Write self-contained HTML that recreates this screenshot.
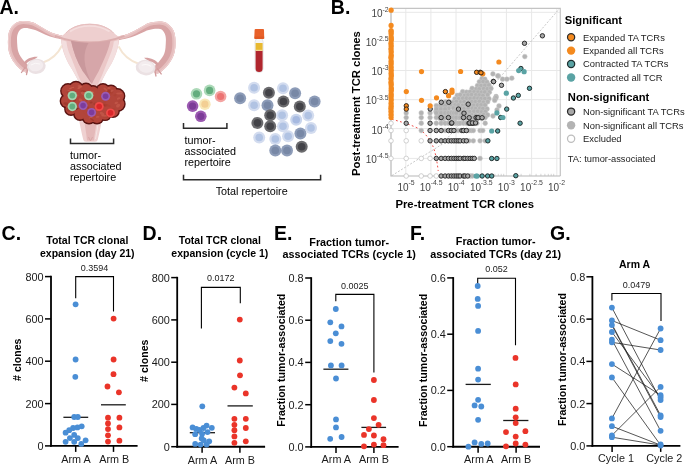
<!DOCTYPE html>
<html><head><meta charset="utf-8"><style>
html,body{margin:0;padding:0;background:#fff;}
svg{display:block;will-change:transform;}
text{font-family:"Liberation Sans", sans-serif;}
</style></head><body>
<svg width="685" height="465" viewBox="0 0 685 465" font-family="Liberation Sans, sans-serif">
<rect width="685" height="465" fill="#fff"/>
<line x1="63.4" y1="417.3" x2="88.2" y2="417.3" stroke="#1a1a1a" stroke-width="1.3"/>
<line x1="101" y1="404.8" x2="125.8" y2="404.8" stroke="#1a1a1a" stroke-width="1.3"/>
<line x1="189.8" y1="432.7" x2="215" y2="432.7" stroke="#1a1a1a" stroke-width="1.3"/>
<line x1="227.5" y1="405.9" x2="252.8" y2="405.9" stroke="#1a1a1a" stroke-width="1.3"/>
<line x1="323.4" y1="369.2" x2="348.4" y2="369.2" stroke="#1a1a1a" stroke-width="1.3"/>
<line x1="361.4" y1="427.4" x2="386.1" y2="427.4" stroke="#1a1a1a" stroke-width="1.3"/>
<line x1="465.6" y1="384.4" x2="490.8" y2="384.4" stroke="#1a1a1a" stroke-width="1.3"/>
<line x1="503.2" y1="420.5" x2="528.4" y2="420.5" stroke="#1a1a1a" stroke-width="1.3"/>
<text x="-0.5" y="13.9" font-size="19.5" font-weight="700" text-anchor="start" fill="#000" >A.</text>
<text x="330.8" y="14.0" font-size="19.5" font-weight="700" text-anchor="start" fill="#000" >B.</text>
<text x="1.6" y="240.0" font-size="19.5" font-weight="700" text-anchor="start" fill="#000" >C.</text>
<text x="142.6" y="240.0" font-size="19.5" font-weight="700" text-anchor="start" fill="#000" >D.</text>
<text x="274" y="240.0" font-size="19.5" font-weight="700" text-anchor="start" fill="#000" >E.</text>
<text x="410" y="240.0" font-size="19.5" font-weight="700" text-anchor="start" fill="#000" >F.</text>
<text x="550" y="240.0" font-size="19.5" font-weight="700" text-anchor="start" fill="#000" >G.</text>
<defs><clipPath id="tc"><path d="M62,35.6 C58,35 56.5,34.5 54,33.6 C51,32.5 48.5,31 45.5,29.4 C42.5,27.6 40,26 37,24.4 C34.5,23 32,22 29,21.6 C26,21.1 23.5,20.9 21.3,21.2 C19,21.5 17,22.2 15.5,23.2 C13.3,24.8 11.6,26.5 10.6,28.4 C9,31 8.3,34 8.1,37.1 C7.9,40.5 7.8,43.5 8.1,46.8 C8.4,50 9.2,53.5 10.6,56.4 C12,59.3 13.6,62 15.5,64.2 C17.3,66.5 19.2,68.5 21.3,70 C23,71.3 25,72.3 27.1,72.9 L29.3,66.1 C27.5,64.5 25.6,63 24.2,61.3 C22.5,59.2 20.6,57 19.4,54.5 C18.2,52 17.6,49.5 17.4,46.8 C17.2,44 17,41.5 17,39 C17,36.5 17.5,34 18.4,32.3 C19.3,30.5 20.5,28.8 22.3,28.4 C24.5,28 26.8,28 29,28.4 C32,28.9 34.5,29.5 37,30.8 C40,32.2 42.5,33.5 45.5,34.8 C48.5,36 51.5,37 54.5,37.8 C57,38.4 59,38.9 62,39.4 Z"/></clipPath></defs>
<g><path d="M62,35.6 C58,35 56.5,34.5 54,33.6 C51,32.5 48.5,31 45.5,29.4 C42.5,27.6 40,26 37,24.4 C34.5,23 32,22 29,21.6 C26,21.1 23.5,20.9 21.3,21.2 C19,21.5 17,22.2 15.5,23.2 C13.3,24.8 11.6,26.5 10.6,28.4 C9,31 8.3,34 8.1,37.1 C7.9,40.5 7.8,43.5 8.1,46.8 C8.4,50 9.2,53.5 10.6,56.4 C12,59.3 13.6,62 15.5,64.2 C17.3,66.5 19.2,68.5 21.3,70 C23,71.3 25,72.3 27.1,72.9 L29.3,66.1 C27.5,64.5 25.6,63 24.2,61.3 C22.5,59.2 20.6,57 19.4,54.5 C18.2,52 17.6,49.5 17.4,46.8 C17.2,44 17,41.5 17,39 C17,36.5 17.5,34 18.4,32.3 C19.3,30.5 20.5,28.8 22.3,28.4 C24.5,28 26.8,28 29,28.4 C32,28.9 34.5,29.5 37,30.8 C40,32.2 42.5,33.5 45.5,34.8 C48.5,36 51.5,37 54.5,37.8 C57,38.4 59,38.9 62,39.4 Z" fill="#d8a4a5"/>
<g clip-path="url(#tc)"><path d="M62,35.6 C58,35 56.5,34.5 54,33.6 C51,32.5 48.5,31 45.5,29.4 C42.5,27.6 40,26 37,24.4 C34.5,23 32,22 29,21.6 C26,21.1 23.5,20.9 21.3,21.2 C19,21.5 17,22.2 15.5,23.2 C13.3,24.8 11.6,26.5 10.6,28.4 C9,31 8.3,34 8.1,37.1 C7.9,40.5 7.8,43.5 8.1,46.8 C8.4,50 9.2,53.5 10.6,56.4 C12,59.3 13.6,62 15.5,64.2 C17.3,66.5 19.2,68.5 21.3,70 C23,71.3 25,72.3 27.1,72.9" stroke="#e6bebe" stroke-width="6" fill="none"/><path d="M62,35.6 C58,35 56.5,34.5 54,33.6 C51,32.5 48.5,31 45.5,29.4 C42.5,27.6 40,26 37,24.4 C34.5,23 32,22 29,21.6 C26,21.1 23.5,20.9 21.3,21.2 C19,21.5 17,22.2 15.5,23.2 C13.3,24.8 11.6,26.5 10.6,28.4 C9,31 8.3,34 8.1,37.1 C7.9,40.5 7.8,43.5 8.1,46.8 C8.4,50 9.2,53.5 10.6,56.4 C12,59.3 13.6,62 15.5,64.2 C17.3,66.5 19.2,68.5 21.3,70 C23,71.3 25,72.3 27.1,72.9" stroke="#efd0d0" stroke-width="1.8" fill="none"/></g>
<path d="M25,67.5 L21.5,72.5 M27.5,69.5 L26.5,74.5 M29.5,66.5 L31.5,64 M31,67.5 L33.5,66" stroke="#d29c9d" stroke-width="1.3" stroke-linecap="round"/>
<path d="M43,62.5 Q56,58 62,45.5" stroke="#f4e5d3" stroke-width="1.9" fill="none"/><ellipse cx="36.3" cy="66.3" rx="9.4" ry="7.6" fill="#ebe1e3" transform="rotate(-6 36.3 66.1)"/><ellipse cx="35.8" cy="65.6" rx="7.4" ry="5.7" fill="#f3ecee" transform="rotate(-6 35.8 65.4)"/><path d="M31,65 Q35,62 40,64" stroke="#fbf8f8" stroke-width="1" fill="none"/><path d="M23.5,63 C26.5,58.5 32,56.3 37.8,56.7 C36.2,58.3 33.2,59.6 30.6,60.6 C28.6,61.5 26.6,63 25.6,64.8 Z" fill="#d5a0a1"/></g>
<g transform="translate(183.8,0) scale(-1.052,1.02)"><path d="M62,35.6 C58,35 56.5,34.5 54,33.6 C51,32.5 48.5,31 45.5,29.4 C42.5,27.6 40,26 37,24.4 C34.5,23 32,22 29,21.6 C26,21.1 23.5,20.9 21.3,21.2 C19,21.5 17,22.2 15.5,23.2 C13.3,24.8 11.6,26.5 10.6,28.4 C9,31 8.3,34 8.1,37.1 C7.9,40.5 7.8,43.5 8.1,46.8 C8.4,50 9.2,53.5 10.6,56.4 C12,59.3 13.6,62 15.5,64.2 C17.3,66.5 19.2,68.5 21.3,70 C23,71.3 25,72.3 27.1,72.9 L29.3,66.1 C27.5,64.5 25.6,63 24.2,61.3 C22.5,59.2 20.6,57 19.4,54.5 C18.2,52 17.6,49.5 17.4,46.8 C17.2,44 17,41.5 17,39 C17,36.5 17.5,34 18.4,32.3 C19.3,30.5 20.5,28.8 22.3,28.4 C24.5,28 26.8,28 29,28.4 C32,28.9 34.5,29.5 37,30.8 C40,32.2 42.5,33.5 45.5,34.8 C48.5,36 51.5,37 54.5,37.8 C57,38.4 59,38.9 62,39.4 Z" fill="#d8a4a5"/>
<g clip-path="url(#tc)"><path d="M62,35.6 C58,35 56.5,34.5 54,33.6 C51,32.5 48.5,31 45.5,29.4 C42.5,27.6 40,26 37,24.4 C34.5,23 32,22 29,21.6 C26,21.1 23.5,20.9 21.3,21.2 C19,21.5 17,22.2 15.5,23.2 C13.3,24.8 11.6,26.5 10.6,28.4 C9,31 8.3,34 8.1,37.1 C7.9,40.5 7.8,43.5 8.1,46.8 C8.4,50 9.2,53.5 10.6,56.4 C12,59.3 13.6,62 15.5,64.2 C17.3,66.5 19.2,68.5 21.3,70 C23,71.3 25,72.3 27.1,72.9" stroke="#e6bebe" stroke-width="6" fill="none"/><path d="M62,35.6 C58,35 56.5,34.5 54,33.6 C51,32.5 48.5,31 45.5,29.4 C42.5,27.6 40,26 37,24.4 C34.5,23 32,22 29,21.6 C26,21.1 23.5,20.9 21.3,21.2 C19,21.5 17,22.2 15.5,23.2 C13.3,24.8 11.6,26.5 10.6,28.4 C9,31 8.3,34 8.1,37.1 C7.9,40.5 7.8,43.5 8.1,46.8 C8.4,50 9.2,53.5 10.6,56.4 C12,59.3 13.6,62 15.5,64.2 C17.3,66.5 19.2,68.5 21.3,70 C23,71.3 25,72.3 27.1,72.9" stroke="#efd0d0" stroke-width="1.8" fill="none"/></g>
<path d="M25,67.5 L21.5,72.5 M27.5,69.5 L26.5,74.5 M29.5,66.5 L31.5,64 M31,67.5 L33.5,66" stroke="#d29c9d" stroke-width="1.3" stroke-linecap="round"/>
<path d="M43,62.5 Q56,58 62,45.5" stroke="#f4e5d3" stroke-width="1.9" fill="none"/><ellipse cx="36.3" cy="66.3" rx="9.4" ry="7.6" fill="#ebe1e3" transform="rotate(-6 36.3 66.1)"/><ellipse cx="35.8" cy="65.6" rx="7.4" ry="5.7" fill="#f3ecee" transform="rotate(-6 35.8 65.4)"/><path d="M31,65 Q35,62 40,64" stroke="#fbf8f8" stroke-width="1" fill="none"/><path d="M23.5,63 C26.5,58.5 32,56.3 37.8,56.7 C36.2,58.3 33.2,59.6 30.6,60.6 C28.6,61.5 26.6,63 25.6,64.8 Z" fill="#d5a0a1"/></g>
<path d="M60,37 C64,35.5 66.5,31.5 71,28.8 C76,25.5 82,23.8 89.7,23.8 C97.4,23.8 103.4,25.5 108.4,28.8 C112.9,31.5 115.4,35.5 119.4,37 L119.2,39 C118.5,50 113,62 107.7,69.7 C104,76 101,82 100.2,86.2 L80.6,86.2 C79,82 76,76 72.3,69.7 C67,62 61.5,50 61,39 Z" fill="#ebc7c7"/>
<path d="M60,37 C64,35.5 66.5,31.5 71,28.8 C76,25.5 82,23.8 89.7,23.8 C97.4,23.8 103.4,25.5 108.4,28.8 C112.9,31.5 115.4,35.5 119.4,37 C110,40.5 100,41.4 89.7,41.4 C79,41.4 69,40.5 60,37 Z" fill="#eecfcf"/>
<path d="M66,33 C68,30.5 70,29.5 72,28.3 C77,25.6 82.5,24.4 89.7,24.4 C97,24.4 102.5,25.6 107.4,28.3 C109.5,29.5 111.5,30.5 113.5,33" stroke="#e4bcbc" stroke-width="0.9" fill="none"/>
<path d="M70,31.5 C76,27.5 82,26 89.7,26 C97,26 103,27.5 109.5,31.5" stroke="#f4dede" stroke-width="1.6" fill="none"/>
<path d="M55,35.8 C70,41.5 80,42.4 89.7,42.4 C99,42.4 110,41.5 124.5,35.8" stroke="#dcaeae" stroke-width="1.8" fill="none"/>
<path d="M61.5,40 C62,50 67,62 72.3,69.7 C75,74 78,80 80.6,86 L83,86 C79,78 74.5,66 70.5,56 C67.5,49 66.5,44 66.5,41.5 Z" fill="#f3dede"/>
<path d="M118.7,40 C118.2,50 113.2,62 107.9,69.7 C105.2,74 102.2,80 99.6,86 L97.2,86 C101.2,78 105.7,66 109.7,56 C112.7,49 113.7,44 113.7,41.5 Z" fill="#f3dede"/>
<path d="M71,40.8 C80,43 99,43 110.5,40.2 C108.5,50 104,60 98.7,71.2 C96,76 93.5,80 92,84 C88,78 85,74 82.8,71.2 C77,62 73.5,52 71,40.8 Z" fill="#d6a6a9"/>
<path d="M71,40.8 C77,42.3 83,42.9 88.5,42.9 C85.8,47 84.2,53 84.5,60 C85,68 88,76 92,84 C88,78 85,74 82.8,71.2 C77,62 73.5,52 71,40.8 Z" fill="#c9989c"/>
<path d="M78.5,117 L102.5,117 C101,125 99.5,133 97.8,139.5 Q97.5,141.8 95,141.8 L86,141.8 Q83.5,141.8 83.2,139.5 C81.5,133 80,125 78.5,117 Z" fill="#efd1d1"/>
<path d="M84,119 L97,119 C96,127 94.5,134 94,140.5 L87,140.5 C86.5,134 85,127 84,119 Z" fill="#e4b9b9"/>
<path d="M88.5,137 L90.5,141 L92.5,137" stroke="#d7a5a5" stroke-width="0.9" fill="none"/>
<path d="M98.5,119 C97.8,127 96.5,134 95.5,139" stroke="#f6e4e4" stroke-width="1" fill="none"/>
<circle cx="68.00" cy="91.00" r="7.9" fill="#5a1311" stroke="none" stroke-width="0" />
<circle cx="76.00" cy="88.50" r="7.699999999999999" fill="#5a1311" stroke="none" stroke-width="0" />
<circle cx="86.00" cy="90.00" r="7.4" fill="#5a1311" stroke="none" stroke-width="0" />
<circle cx="93.00" cy="92.00" r="6.9" fill="#5a1311" stroke="none" stroke-width="0" />
<circle cx="103.00" cy="90.50" r="7.4" fill="#5a1311" stroke="none" stroke-width="0" />
<circle cx="111.00" cy="92.00" r="7.4" fill="#5a1311" stroke="none" stroke-width="0" />
<circle cx="117.50" cy="96.00" r="7.9" fill="#5a1311" stroke="none" stroke-width="0" />
<circle cx="118.00" cy="104.00" r="7.699999999999999" fill="#5a1311" stroke="none" stroke-width="0" />
<circle cx="113.00" cy="111.00" r="6.9" fill="#5a1311" stroke="none" stroke-width="0" />
<circle cx="105.00" cy="114.50" r="6.6" fill="#5a1311" stroke="none" stroke-width="0" />
<circle cx="97.00" cy="117.00" r="7.4" fill="#5a1311" stroke="none" stroke-width="0" />
<circle cx="89.00" cy="117.00" r="7.4" fill="#5a1311" stroke="none" stroke-width="0" />
<circle cx="80.00" cy="114.00" r="6.9" fill="#5a1311" stroke="none" stroke-width="0" />
<circle cx="71.00" cy="109.00" r="6.9" fill="#5a1311" stroke="none" stroke-width="0" />
<circle cx="67.00" cy="101.00" r="7.4" fill="#5a1311" stroke="none" stroke-width="0" />
<circle cx="80.00" cy="100.00" r="10.4" fill="#5a1311" stroke="none" stroke-width="0" />
<circle cx="95.00" cy="102.00" r="11.4" fill="#5a1311" stroke="none" stroke-width="0" />
<circle cx="108.00" cy="102.00" r="10.4" fill="#5a1311" stroke="none" stroke-width="0" />
<circle cx="90.00" cy="108.00" r="9.4" fill="#5a1311" stroke="none" stroke-width="0" />
<circle cx="100.00" cy="108.00" r="9.4" fill="#5a1311" stroke="none" stroke-width="0" />
<circle cx="68.00" cy="91.00" r="6.5" fill="#b2453a" stroke="none" stroke-width="0" />
<circle cx="76.00" cy="88.50" r="6.3" fill="#b2453a" stroke="none" stroke-width="0" />
<circle cx="86.00" cy="90.00" r="6" fill="#b2453a" stroke="none" stroke-width="0" />
<circle cx="93.00" cy="92.00" r="5.5" fill="#b2453a" stroke="none" stroke-width="0" />
<circle cx="103.00" cy="90.50" r="6" fill="#b2453a" stroke="none" stroke-width="0" />
<circle cx="111.00" cy="92.00" r="6" fill="#b2453a" stroke="none" stroke-width="0" />
<circle cx="117.50" cy="96.00" r="6.5" fill="#b2453a" stroke="none" stroke-width="0" />
<circle cx="118.00" cy="104.00" r="6.3" fill="#b2453a" stroke="none" stroke-width="0" />
<circle cx="113.00" cy="111.00" r="5.5" fill="#b2453a" stroke="none" stroke-width="0" />
<circle cx="105.00" cy="114.50" r="5.2" fill="#b2453a" stroke="none" stroke-width="0" />
<circle cx="97.00" cy="117.00" r="6" fill="#b2453a" stroke="none" stroke-width="0" />
<circle cx="89.00" cy="117.00" r="6" fill="#b2453a" stroke="none" stroke-width="0" />
<circle cx="80.00" cy="114.00" r="5.5" fill="#b2453a" stroke="none" stroke-width="0" />
<circle cx="71.00" cy="109.00" r="5.5" fill="#b2453a" stroke="none" stroke-width="0" />
<circle cx="67.00" cy="101.00" r="6" fill="#b2453a" stroke="none" stroke-width="0" />
<circle cx="80.00" cy="100.00" r="9" fill="#b2453a" stroke="none" stroke-width="0" />
<circle cx="95.00" cy="102.00" r="10" fill="#b2453a" stroke="none" stroke-width="0" />
<circle cx="108.00" cy="102.00" r="9" fill="#b2453a" stroke="none" stroke-width="0" />
<circle cx="90.00" cy="108.00" r="8" fill="#b2453a" stroke="none" stroke-width="0" />
<circle cx="100.00" cy="108.00" r="8" fill="#b2453a" stroke="none" stroke-width="0" />
<ellipse cx="83.1" cy="91.1" rx="2.6" ry="0.9" transform="rotate(3 83.1 91.1)" fill="#9c352a" opacity="0.75"/>
<ellipse cx="97.6" cy="116.9" rx="1.9" ry="0.9" transform="rotate(-7 97.6 116.9)" fill="#c45a4b" opacity="0.75"/>
<ellipse cx="70.1" cy="100.4" rx="2.9" ry="0.9" transform="rotate(-22 70.1 100.4)" fill="#ad4133" opacity="0.75"/>
<ellipse cx="118.1" cy="105.6" rx="2.2" ry="1.6" transform="rotate(-36 118.1 105.6)" fill="#c45a4b" opacity="0.75"/>
<ellipse cx="110.7" cy="92.1" rx="2.5" ry="1.3" transform="rotate(-10 110.7 92.1)" fill="#ad4133" opacity="0.75"/>
<ellipse cx="104.9" cy="105.2" rx="2.6" ry="1.2" transform="rotate(3 104.9 105.2)" fill="#9c352a" opacity="0.75"/>
<ellipse cx="91.1" cy="117.4" rx="2.1" ry="1.0" transform="rotate(-26 91.1 117.4)" fill="#c45a4b" opacity="0.75"/>
<ellipse cx="92.7" cy="97.7" rx="2.3" ry="1.3" transform="rotate(-34 92.7 97.7)" fill="#ad4133" opacity="0.75"/>
<ellipse cx="88.4" cy="111.7" rx="1.8" ry="1.2" transform="rotate(-37 88.4 111.7)" fill="#a23a2e" opacity="0.75"/>
<ellipse cx="107.8" cy="105.5" rx="3.0" ry="1.1" transform="rotate(16 107.8 105.5)" fill="#ad4133" opacity="0.75"/>
<ellipse cx="92.8" cy="113.1" rx="1.6" ry="0.9" transform="rotate(-18 92.8 113.1)" fill="#a23a2e" opacity="0.75"/>
<ellipse cx="68.4" cy="109.9" rx="2.6" ry="1.6" transform="rotate(26 68.4 109.9)" fill="#9c352a" opacity="0.75"/>
<ellipse cx="105.1" cy="116.2" rx="2.1" ry="1.6" transform="rotate(-12 105.1 116.2)" fill="#ad4133" opacity="0.75"/>
<ellipse cx="71.6" cy="88.0" rx="2.8" ry="0.9" transform="rotate(-20 71.6 88.0)" fill="#c9604f" opacity="0.75"/>
<ellipse cx="116.3" cy="102.9" rx="1.8" ry="1.1" transform="rotate(-18 116.3 102.9)" fill="#c45a4b" opacity="0.75"/>
<ellipse cx="80.6" cy="100.1" rx="2.1" ry="1.5" transform="rotate(37 80.6 100.1)" fill="#c45a4b" opacity="0.75"/>
<ellipse cx="69.6" cy="91.1" rx="2.6" ry="0.8" transform="rotate(26 69.6 91.1)" fill="#c45a4b" opacity="0.75"/>
<ellipse cx="79.7" cy="86.1" rx="2.2" ry="1.1" transform="rotate(5 79.7 86.1)" fill="#c45a4b" opacity="0.75"/>
<ellipse cx="103.7" cy="103.5" rx="2.5" ry="1.3" transform="rotate(-36 103.7 103.5)" fill="#ad4133" opacity="0.75"/>
<ellipse cx="87.0" cy="99.6" rx="1.7" ry="1.3" transform="rotate(-35 87.0 99.6)" fill="#a23a2e" opacity="0.75"/>
<ellipse cx="120.1" cy="101.0" rx="1.7" ry="1.3" transform="rotate(-32 120.1 101.0)" fill="#ad4133" opacity="0.75"/>
<ellipse cx="73.5" cy="89.4" rx="2.1" ry="0.8" transform="rotate(30 73.5 89.4)" fill="#ad4133" opacity="0.75"/>
<ellipse cx="86.1" cy="107.6" rx="3.1" ry="1.3" transform="rotate(-2 86.1 107.6)" fill="#a23a2e" opacity="0.75"/>
<ellipse cx="91.1" cy="102.5" rx="1.6" ry="0.9" transform="rotate(-13 91.1 102.5)" fill="#9c352a" opacity="0.75"/>
<ellipse cx="91.8" cy="109.5" rx="2.4" ry="1.0" transform="rotate(36 91.8 109.5)" fill="#9c352a" opacity="0.75"/>
<ellipse cx="66.5" cy="104.0" rx="3.2" ry="1.5" transform="rotate(16 66.5 104.0)" fill="#9c352a" opacity="0.75"/>
<ellipse cx="94.0" cy="116.9" rx="2.1" ry="1.0" transform="rotate(3 94.0 116.9)" fill="#ad4133" opacity="0.75"/>
<ellipse cx="83.5" cy="93.6" rx="2.9" ry="1.6" transform="rotate(28 83.5 93.6)" fill="#c45a4b" opacity="0.75"/>
<ellipse cx="110.8" cy="111.2" rx="1.9" ry="1.2" transform="rotate(-12 110.8 111.2)" fill="#a23a2e" opacity="0.75"/>
<ellipse cx="91.4" cy="92.6" rx="2.5" ry="1.1" transform="rotate(25 91.4 92.6)" fill="#9c352a" opacity="0.75"/>
<ellipse cx="118.5" cy="98.4" rx="1.9" ry="1.0" transform="rotate(-24 118.5 98.4)" fill="#c45a4b" opacity="0.75"/>
<ellipse cx="92.0" cy="119.5" rx="2.5" ry="0.8" transform="rotate(33 92.0 119.5)" fill="#9c352a" opacity="0.75"/>
<ellipse cx="109.8" cy="88.9" rx="2.6" ry="1.5" transform="rotate(23 109.8 88.9)" fill="#c45a4b" opacity="0.75"/>
<ellipse cx="91.8" cy="92.1" rx="2.8" ry="1.1" transform="rotate(24 91.8 92.1)" fill="#c9604f" opacity="0.75"/>
<ellipse cx="90.9" cy="111.3" rx="1.6" ry="0.9" transform="rotate(39 90.9 111.3)" fill="#a23a2e" opacity="0.75"/>
<ellipse cx="110.2" cy="91.0" rx="2.9" ry="1.6" transform="rotate(13 110.2 91.0)" fill="#9c352a" opacity="0.75"/>
<ellipse cx="105.7" cy="89.5" rx="2.8" ry="0.9" transform="rotate(39 105.7 89.5)" fill="#c45a4b" opacity="0.75"/>
<ellipse cx="111.3" cy="93.2" rx="1.9" ry="1.0" transform="rotate(-21 111.3 93.2)" fill="#ad4133" opacity="0.75"/>
<ellipse cx="83.3" cy="104.5" rx="2.9" ry="0.8" transform="rotate(19 83.3 104.5)" fill="#c9604f" opacity="0.75"/>
<ellipse cx="102.1" cy="113.7" rx="2.4" ry="1.5" transform="rotate(30 102.1 113.7)" fill="#c45a4b" opacity="0.75"/>
<ellipse cx="94.8" cy="103.8" rx="1.5" ry="1.2" transform="rotate(-25 94.8 103.8)" fill="#a23a2e" opacity="0.75"/>
<ellipse cx="108.5" cy="91.1" rx="1.7" ry="1.3" transform="rotate(-30 108.5 91.1)" fill="#a23a2e" opacity="0.75"/>
<ellipse cx="83.3" cy="103.6" rx="2.4" ry="1.4" transform="rotate(-32 83.3 103.6)" fill="#ad4133" opacity="0.75"/>
<ellipse cx="68.2" cy="92.5" rx="1.6" ry="0.9" transform="rotate(-4 68.2 92.5)" fill="#a23a2e" opacity="0.75"/>
<ellipse cx="107.6" cy="117.0" rx="2.3" ry="1.3" transform="rotate(0 107.6 117.0)" fill="#ad4133" opacity="0.75"/>
<ellipse cx="76.2" cy="95.4" rx="2.4" ry="1.4" transform="rotate(1 76.2 95.4)" fill="#c45a4b" opacity="0.75"/>
<ellipse cx="104.2" cy="115.8" rx="3.1" ry="1.0" transform="rotate(5 104.2 115.8)" fill="#c45a4b" opacity="0.75"/>
<ellipse cx="112.0" cy="90.7" rx="1.7" ry="1.2" transform="rotate(-34 112.0 90.7)" fill="#c45a4b" opacity="0.75"/>
<ellipse cx="89.0" cy="93.2" rx="2.0" ry="0.9" transform="rotate(22 89.0 93.2)" fill="#9c352a" opacity="0.75"/>
<ellipse cx="119.2" cy="93.5" rx="3.1" ry="1.1" transform="rotate(-1 119.2 93.5)" fill="#c45a4b" opacity="0.75"/>
<ellipse cx="74.0" cy="100.7" rx="2.4" ry="1.1" transform="rotate(-24 74.0 100.7)" fill="#9c352a" opacity="0.75"/>
<ellipse cx="70.2" cy="98.4" rx="2.1" ry="1.2" transform="rotate(16 70.2 98.4)" fill="#c9604f" opacity="0.75"/>
<ellipse cx="83.6" cy="107.2" rx="2.4" ry="0.9" transform="rotate(39 83.6 107.2)" fill="#c45a4b" opacity="0.75"/>
<ellipse cx="79.9" cy="87.3" rx="2.8" ry="1.0" transform="rotate(-30 79.9 87.3)" fill="#c9604f" opacity="0.75"/>
<ellipse cx="112.6" cy="109.0" rx="3.1" ry="1.1" transform="rotate(3 112.6 109.0)" fill="#ad4133" opacity="0.75"/>
<ellipse cx="97.0" cy="109.8" rx="1.7" ry="0.8" transform="rotate(15 97.0 109.8)" fill="#c9604f" opacity="0.75"/>
<ellipse cx="115.1" cy="95.1" rx="1.5" ry="0.9" transform="rotate(-19 115.1 95.1)" fill="#ad4133" opacity="0.75"/>
<ellipse cx="112.9" cy="88.3" rx="3.0" ry="1.2" transform="rotate(-13 112.9 88.3)" fill="#ad4133" opacity="0.75"/>
<circle cx="72.30" cy="95.60" r="4.7" fill="#a3d6b0" stroke="none" stroke-width="0" />
<circle cx="72.30" cy="95.60" r="2.914" fill="#62ae7f" stroke="none" stroke-width="0" />
<circle cx="88.70" cy="95.60" r="4.7" fill="#a3d6b0" stroke="none" stroke-width="0" />
<circle cx="88.70" cy="95.60" r="2.914" fill="#62ae7f" stroke="none" stroke-width="0" />
<circle cx="72.30" cy="106.50" r="4.7" fill="#a3d6b0" stroke="none" stroke-width="0" />
<circle cx="72.30" cy="106.50" r="2.914" fill="#62ae7f" stroke="none" stroke-width="0" />
<circle cx="105.60" cy="96.30" r="4.5" fill="#9a5bb3" stroke="none" stroke-width="0" />
<circle cx="105.60" cy="96.30" r="2.79" fill="#7b3c9c" stroke="none" stroke-width="0" />
<circle cx="83.10" cy="105.60" r="4.5" fill="#9a5bb3" stroke="none" stroke-width="0" />
<circle cx="83.10" cy="105.60" r="2.79" fill="#7b3c9c" stroke="none" stroke-width="0" />
<circle cx="91.60" cy="112.40" r="4.5" fill="#9a5bb3" stroke="none" stroke-width="0" />
<circle cx="91.60" cy="112.40" r="2.79" fill="#7b3c9c" stroke="none" stroke-width="0" />
<circle cx="99.20" cy="106.50" r="4.5" fill="#ef4a48" stroke="none" stroke-width="0" />
<circle cx="99.20" cy="106.50" r="2.79" fill="#d9262a" stroke="none" stroke-width="0" />
<circle cx="110.50" cy="112.90" r="4.5" fill="#ef4a48" stroke="none" stroke-width="0" />
<circle cx="110.50" cy="112.90" r="2.79" fill="#d9262a" stroke="none" stroke-width="0" />
<path d="M70.5,138.4 L70.5,143.5 L113.6,143.5 L113.6,138.4" stroke="#2b2b2b" stroke-width="1.5" fill="none"/>
<text x="70" y="159.0" font-size="10.8" font-weight="400" text-anchor="start" fill="#000" >tumor-</text>
<text x="70" y="170.2" font-size="10.8" font-weight="400" text-anchor="start" fill="#000" >associated</text>
<text x="70" y="181.4" font-size="10.8" font-weight="400" text-anchor="start" fill="#000" >repertoire</text>
<rect x="255" y="38" width="8.2" height="34.5" rx="4" fill="#f4f4f4" stroke="#d8d8d8" stroke-width="0.6"/>
<path d="M255.6,50.5 L262.6,50.5 L262.6,68.5 A3.5,3.5 0 0 1 255.6,68.5 Z" fill="#b0262e"/>
<rect x="255.6" y="43" width="7" height="7.5" fill="#e8b931"/>
<rect x="255.6" y="49.8" width="7" height="1" fill="#f5e2a0"/>
<path d="M255.6,29 L263.2,29 Q264,29 264,30 L264.2,37.3 Q264.5,38.9 263.3,38.9 L255.2,38.9 Q254,38.9 254.3,37.3 L254.6,30 Q254.6,29 255.6,29 Z" fill="#e8612a"/>
<rect x="254.6" y="36.6" width="9.6" height="2.2" fill="#d9531f" opacity="0.6"/>
<circle cx="196.50" cy="93.80" r="5.8" fill="#acd9b8" stroke="none" stroke-width="0" />
<circle cx="196.50" cy="93.80" r="3.6" fill="#64ad7e" stroke="none" stroke-width="0" />
<circle cx="209.60" cy="90.40" r="5.8" fill="#acd9b8" stroke="none" stroke-width="0" />
<circle cx="209.60" cy="90.40" r="3.6" fill="#64ad7e" stroke="none" stroke-width="0" />
<circle cx="220.60" cy="96.50" r="5.8" fill="#f4a4a2" stroke="none" stroke-width="0" />
<circle cx="220.60" cy="96.50" r="3.6" fill="#ec7372" stroke="none" stroke-width="0" />
<circle cx="192.60" cy="106.10" r="5.8" fill="#9b5ab1" stroke="none" stroke-width="0" />
<circle cx="192.60" cy="106.10" r="3.6" fill="#7c3c98" stroke="none" stroke-width="0" />
<circle cx="200.80" cy="116.30" r="5.8" fill="#9b5ab1" stroke="none" stroke-width="0" />
<circle cx="200.80" cy="116.30" r="3.6" fill="#7c3c98" stroke="none" stroke-width="0" />
<circle cx="204.90" cy="104.20" r="5.8" fill="#f8e8b8" stroke="none" stroke-width="0" />
<circle cx="204.90" cy="104.20" r="3.6" fill="#f3cf94" stroke="none" stroke-width="0" />
<path d="M183.5,123.1 L183.5,128.2 L226.9,128.2 L226.9,123.1" stroke="#2b2b2b" stroke-width="1.5" fill="none"/>
<text x="184.5" y="143.6" font-size="10.8" font-weight="400" text-anchor="start" fill="#000" >tumor-</text>
<text x="184.5" y="154.7" font-size="10.8" font-weight="400" text-anchor="start" fill="#000" >associated</text>
<text x="184.5" y="165.79999999999998" font-size="10.8" font-weight="400" text-anchor="start" fill="#000" >repertoire</text>
<circle cx="254.10" cy="87.80" r="6.0" fill="#d3dcef" stroke="none" stroke-width="0" />
<circle cx="254.10" cy="87.80" r="3.8" fill="#b1c3e3" stroke="none" stroke-width="0" />
<circle cx="268.90" cy="92.70" r="6.0" fill="#6b6b6e" stroke="none" stroke-width="0" />
<circle cx="268.90" cy="92.70" r="3.8" fill="#434348" stroke="none" stroke-width="0" />
<circle cx="283.00" cy="88.20" r="6.0" fill="#d3dcef" stroke="none" stroke-width="0" />
<circle cx="283.00" cy="88.20" r="3.8" fill="#b1c3e3" stroke="none" stroke-width="0" />
<circle cx="295.10" cy="93.30" r="6.0" fill="#8d9cb8" stroke="none" stroke-width="0" />
<circle cx="295.10" cy="93.30" r="3.8" fill="#7888a6" stroke="none" stroke-width="0" />
<circle cx="240.10" cy="98.20" r="6.0" fill="#8d9cb8" stroke="none" stroke-width="0" />
<circle cx="240.10" cy="98.20" r="3.8" fill="#7888a6" stroke="none" stroke-width="0" />
<circle cx="254.10" cy="105.20" r="6.0" fill="#d3dcef" stroke="none" stroke-width="0" />
<circle cx="254.10" cy="105.20" r="3.8" fill="#b1c3e3" stroke="none" stroke-width="0" />
<circle cx="267.50" cy="105.20" r="6.0" fill="#8d9cb8" stroke="none" stroke-width="0" />
<circle cx="267.50" cy="105.20" r="3.8" fill="#7888a6" stroke="none" stroke-width="0" />
<circle cx="283.40" cy="101.50" r="6.0" fill="#6b6b6e" stroke="none" stroke-width="0" />
<circle cx="283.40" cy="101.50" r="3.8" fill="#434348" stroke="none" stroke-width="0" />
<circle cx="299.80" cy="106.60" r="6.0" fill="#6b6b6e" stroke="none" stroke-width="0" />
<circle cx="299.80" cy="106.60" r="3.8" fill="#434348" stroke="none" stroke-width="0" />
<circle cx="314.60" cy="101.50" r="6.0" fill="#8d9cb8" stroke="none" stroke-width="0" />
<circle cx="314.60" cy="101.50" r="3.8" fill="#7888a6" stroke="none" stroke-width="0" />
<circle cx="270.20" cy="115.20" r="6.0" fill="#6b6b6e" stroke="none" stroke-width="0" />
<circle cx="270.20" cy="115.20" r="3.8" fill="#434348" stroke="none" stroke-width="0" />
<circle cx="282.10" cy="115.20" r="6.0" fill="#d3dcef" stroke="none" stroke-width="0" />
<circle cx="282.10" cy="115.20" r="3.8" fill="#b1c3e3" stroke="none" stroke-width="0" />
<circle cx="296.20" cy="119.80" r="6.0" fill="#c9d5ec" stroke="none" stroke-width="0" />
<circle cx="296.20" cy="119.80" r="3.8" fill="#a6b9e0" stroke="none" stroke-width="0" />
<circle cx="308.20" cy="115.60" r="6.0" fill="#d3dcef" stroke="none" stroke-width="0" />
<circle cx="308.20" cy="115.60" r="3.8" fill="#b1c3e3" stroke="none" stroke-width="0" />
<circle cx="257.40" cy="122.90" r="6.0" fill="#6b6b6e" stroke="none" stroke-width="0" />
<circle cx="257.40" cy="122.90" r="3.8" fill="#434348" stroke="none" stroke-width="0" />
<circle cx="270.20" cy="126.20" r="6.0" fill="#6b6b6e" stroke="none" stroke-width="0" />
<circle cx="270.20" cy="126.20" r="3.8" fill="#434348" stroke="none" stroke-width="0" />
<circle cx="283.00" cy="126.20" r="6.0" fill="#d3dcef" stroke="none" stroke-width="0" />
<circle cx="283.00" cy="126.20" r="3.8" fill="#b1c3e3" stroke="none" stroke-width="0" />
<circle cx="311.00" cy="128.00" r="6.0" fill="#d3dcef" stroke="none" stroke-width="0" />
<circle cx="311.00" cy="128.00" r="3.8" fill="#b1c3e3" stroke="none" stroke-width="0" />
<circle cx="300.40" cy="133.50" r="6.0" fill="#8d9cb8" stroke="none" stroke-width="0" />
<circle cx="300.40" cy="133.50" r="3.8" fill="#7888a6" stroke="none" stroke-width="0" />
<circle cx="259.20" cy="137.50" r="6.0" fill="#d3dcef" stroke="none" stroke-width="0" />
<circle cx="259.20" cy="137.50" r="3.8" fill="#b1c3e3" stroke="none" stroke-width="0" />
<circle cx="275.30" cy="139.00" r="6.0" fill="#d3dcef" stroke="none" stroke-width="0" />
<circle cx="275.30" cy="139.00" r="3.8" fill="#b1c3e3" stroke="none" stroke-width="0" />
<circle cx="288.10" cy="136.20" r="6.0" fill="#d3dcef" stroke="none" stroke-width="0" />
<circle cx="288.10" cy="136.20" r="3.8" fill="#b1c3e3" stroke="none" stroke-width="0" />
<circle cx="275.30" cy="150.50" r="6.0" fill="#8d9cb8" stroke="none" stroke-width="0" />
<circle cx="275.30" cy="150.50" r="3.8" fill="#7888a6" stroke="none" stroke-width="0" />
<circle cx="287.00" cy="150.50" r="6.0" fill="#8d9cb8" stroke="none" stroke-width="0" />
<circle cx="287.00" cy="150.50" r="3.8" fill="#7888a6" stroke="none" stroke-width="0" />
<circle cx="301.70" cy="146.80" r="6.0" fill="#6b6b6e" stroke="none" stroke-width="0" />
<circle cx="301.70" cy="146.80" r="3.8" fill="#434348" stroke="none" stroke-width="0" />
<path d="M183.5,174.7 L183.5,179.7 L320.6,179.7 L320.6,174.7" stroke="#2b2b2b" stroke-width="1.5" fill="none"/>
<text x="251.7" y="194.8" font-size="10.8" font-weight="400" text-anchor="middle" fill="#000" >Total repertoire</text>
<line x1="405.8" y1="8.4" x2="405.8" y2="176" stroke="#e8e8e8" stroke-width="1"/>
<line x1="430.9" y1="8.4" x2="430.9" y2="176" stroke="#e8e8e8" stroke-width="1"/>
<line x1="456.0" y1="8.4" x2="456.0" y2="176" stroke="#e8e8e8" stroke-width="1"/>
<line x1="481.2" y1="8.4" x2="481.2" y2="176" stroke="#e8e8e8" stroke-width="1"/>
<line x1="506.4" y1="8.4" x2="506.4" y2="176" stroke="#e8e8e8" stroke-width="1"/>
<line x1="531.6" y1="8.4" x2="531.6" y2="176" stroke="#e8e8e8" stroke-width="1"/>
<line x1="556.8" y1="8.4" x2="556.8" y2="176" stroke="#e8e8e8" stroke-width="1"/>
<line x1="391" y1="12.3" x2="560.3" y2="12.3" stroke="#e8e8e8" stroke-width="1"/>
<line x1="391" y1="41.5" x2="560.3" y2="41.5" stroke="#e8e8e8" stroke-width="1"/>
<line x1="391" y1="70.5" x2="560.3" y2="70.5" stroke="#e8e8e8" stroke-width="1"/>
<line x1="391" y1="99.7" x2="560.3" y2="99.7" stroke="#e8e8e8" stroke-width="1"/>
<line x1="391" y1="128.6" x2="560.3" y2="128.6" stroke="#e8e8e8" stroke-width="1"/>
<line x1="391" y1="158.4" x2="560.3" y2="158.4" stroke="#e8e8e8" stroke-width="1"/>
<path d="M391,8.4 L560.3,8.4 L560.3,176" stroke="#c4c4c4" stroke-width="1.2" fill="none"/>
<path d="M391,8.4 L391,176 L560.3,176" stroke="#b8b8b8" stroke-width="1.2" fill="none"/>
<line x1="421.1" y1="176" x2="421.1" y2="173.8" stroke="#b8b8b8" stroke-width="0.6"/>
<line x1="429.9" y1="176" x2="429.9" y2="173.8" stroke="#b8b8b8" stroke-width="0.6"/>
<line x1="436.1" y1="176" x2="436.1" y2="173.8" stroke="#b8b8b8" stroke-width="0.6"/>
<line x1="440.9" y1="176" x2="440.9" y2="173.8" stroke="#b8b8b8" stroke-width="0.6"/>
<line x1="444.9" y1="176" x2="444.9" y2="173.8" stroke="#b8b8b8" stroke-width="0.6"/>
<line x1="448.3" y1="176" x2="448.3" y2="173.8" stroke="#b8b8b8" stroke-width="0.6"/>
<line x1="451.2" y1="176" x2="451.2" y2="173.8" stroke="#b8b8b8" stroke-width="0.6"/>
<line x1="453.7" y1="176" x2="453.7" y2="173.8" stroke="#b8b8b8" stroke-width="0.6"/>
<line x1="471.1" y1="176" x2="471.1" y2="173.8" stroke="#b8b8b8" stroke-width="0.6"/>
<line x1="479.9" y1="176" x2="479.9" y2="173.8" stroke="#b8b8b8" stroke-width="0.6"/>
<line x1="486.1" y1="176" x2="486.1" y2="173.8" stroke="#b8b8b8" stroke-width="0.6"/>
<line x1="490.9" y1="176" x2="490.9" y2="173.8" stroke="#b8b8b8" stroke-width="0.6"/>
<line x1="494.9" y1="176" x2="494.9" y2="173.8" stroke="#b8b8b8" stroke-width="0.6"/>
<line x1="498.3" y1="176" x2="498.3" y2="173.8" stroke="#b8b8b8" stroke-width="0.6"/>
<line x1="501.2" y1="176" x2="501.2" y2="173.8" stroke="#b8b8b8" stroke-width="0.6"/>
<line x1="503.7" y1="176" x2="503.7" y2="173.8" stroke="#b8b8b8" stroke-width="0.6"/>
<line x1="521.1" y1="176" x2="521.1" y2="173.8" stroke="#b8b8b8" stroke-width="0.6"/>
<line x1="529.9" y1="176" x2="529.9" y2="173.8" stroke="#b8b8b8" stroke-width="0.6"/>
<line x1="536.1" y1="176" x2="536.1" y2="173.8" stroke="#b8b8b8" stroke-width="0.6"/>
<line x1="540.9" y1="176" x2="540.9" y2="173.8" stroke="#b8b8b8" stroke-width="0.6"/>
<line x1="544.9" y1="176" x2="544.9" y2="173.8" stroke="#b8b8b8" stroke-width="0.6"/>
<line x1="548.3" y1="176" x2="548.3" y2="173.8" stroke="#b8b8b8" stroke-width="0.6"/>
<line x1="551.2" y1="176" x2="551.2" y2="173.8" stroke="#b8b8b8" stroke-width="0.6"/>
<line x1="553.7" y1="176" x2="553.7" y2="173.8" stroke="#b8b8b8" stroke-width="0.6"/>
<text x="388.6" y="16.8" font-size="10" fill="#444" text-anchor="end">10<tspan font-size="6.9" dx="-0.2" dy="-4.9">-2</tspan></text>
<text x="388.6" y="46.0" font-size="10" fill="#444" text-anchor="end">10<tspan font-size="6.9" dx="-0.2" dy="-4.9">-2.5</tspan></text>
<text x="388.6" y="75.2" font-size="10" fill="#444" text-anchor="end">10<tspan font-size="6.9" dx="-0.2" dy="-4.9">-3</tspan></text>
<text x="388.6" y="104.4" font-size="10" fill="#444" text-anchor="end">10<tspan font-size="6.9" dx="-0.2" dy="-4.9">-3.5</tspan></text>
<text x="388.6" y="133.6" font-size="10" fill="#444" text-anchor="end">10<tspan font-size="6.9" dx="-0.2" dy="-4.9">-4</tspan></text>
<text x="388.6" y="162.8" font-size="10" fill="#444" text-anchor="end">10<tspan font-size="6.9" dx="-0.2" dy="-4.9">-4.5</tspan></text>
<text x="406.0" y="190.9" font-size="10" fill="#444" text-anchor="middle">10<tspan font-size="6.9" dx="-0.2" dy="-6.4">-5</tspan></text>
<text x="431.1" y="190.9" font-size="10" fill="#444" text-anchor="middle">10<tspan font-size="6.9" dx="-0.2" dy="-6.4">-4.5</tspan></text>
<text x="456.2" y="190.9" font-size="10" fill="#444" text-anchor="middle">10<tspan font-size="6.9" dx="-0.2" dy="-6.4">-4</tspan></text>
<text x="481.3" y="190.9" font-size="10" fill="#444" text-anchor="middle">10<tspan font-size="6.9" dx="-0.2" dy="-6.4">-3.5</tspan></text>
<text x="506.4" y="190.9" font-size="10" fill="#444" text-anchor="middle">10<tspan font-size="6.9" dx="-0.2" dy="-6.4">-3</tspan></text>
<text x="531.5" y="190.9" font-size="10" fill="#444" text-anchor="middle">10<tspan font-size="6.9" dx="-0.2" dy="-6.4">-2.5</tspan></text>
<text x="556.6" y="190.9" font-size="10" fill="#444" text-anchor="middle">10<tspan font-size="6.9" dx="-0.2" dy="-6.4">-2</tspan></text>
<text x="464.8" y="207.5" font-size="11.3" font-weight="700" text-anchor="middle" fill="#000" >Pre-treatment TCR clones</text>
<text x="0" y="0" font-size="11.3" font-weight="700" text-anchor="middle" transform="translate(360.0,103.6) rotate(-90)">Post-treatment TCR clones</text>
<path d="M391.9,175.6 L442.2,144.2 L559.3,8.8" stroke="#b0b0b0" stroke-width="0.7" stroke-dasharray="2,1.6" fill="none"/>
<path d="M392,119.3 C399,121.3 409,123.8 418.6,128.6 C424,132 429.5,138.5 432.5,145.2 C435,151 436.8,159 438.2,171" stroke="#ec3b36" stroke-width="0.9" stroke-dasharray="1.8,2.4" fill="none"/>
<rect x="388.7" y="29.5" width="4.8" height="88.5" rx="2.4" fill="#f48a1f"/>
<circle cx="391.10" cy="10.20" r="2.6" fill="#f48a1f" stroke="none" stroke-width="0" />
<circle cx="391.10" cy="25.40" r="2.6" fill="#f48a1f" stroke="none" stroke-width="0" />
<circle cx="391.10" cy="30.50" r="2.6" fill="#f48a1f" stroke="none" stroke-width="0" />
<circle cx="391.10" cy="117.50" r="2.6" fill="#f48a1f" stroke="none" stroke-width="0" />
<circle cx="391.05" cy="31.50" r="2.5" fill="#f48a1f" stroke="none" stroke-width="0" />
<circle cx="391.17" cy="33.45" r="2.5" fill="#f48a1f" stroke="none" stroke-width="0" />
<circle cx="391.23" cy="37.53" r="2.5" fill="#f48a1f" stroke="none" stroke-width="0" />
<circle cx="391.38" cy="39.71" r="2.5" fill="#f48a1f" stroke="none" stroke-width="0" />
<circle cx="390.91" cy="43.52" r="2.5" fill="#f48a1f" stroke="none" stroke-width="0" />
<circle cx="391.18" cy="46.04" r="2.5" fill="#f48a1f" stroke="none" stroke-width="0" />
<circle cx="390.92" cy="48.93" r="2.5" fill="#f48a1f" stroke="none" stroke-width="0" />
<circle cx="391.20" cy="51.72" r="2.5" fill="#f48a1f" stroke="none" stroke-width="0" />
<circle cx="391.28" cy="55.59" r="2.5" fill="#f48a1f" stroke="none" stroke-width="0" />
<circle cx="390.82" cy="57.42" r="2.5" fill="#f48a1f" stroke="none" stroke-width="0" />
<circle cx="391.10" cy="61.57" r="2.5" fill="#f48a1f" stroke="none" stroke-width="0" />
<circle cx="391.11" cy="63.69" r="2.5" fill="#f48a1f" stroke="none" stroke-width="0" />
<circle cx="391.07" cy="67.19" r="2.5" fill="#f48a1f" stroke="none" stroke-width="0" />
<circle cx="391.19" cy="70.19" r="2.5" fill="#f48a1f" stroke="none" stroke-width="0" />
<circle cx="391.13" cy="73.47" r="2.5" fill="#f48a1f" stroke="none" stroke-width="0" />
<circle cx="391.38" cy="75.77" r="2.5" fill="#f48a1f" stroke="none" stroke-width="0" />
<circle cx="390.93" cy="78.68" r="2.5" fill="#f48a1f" stroke="none" stroke-width="0" />
<circle cx="390.92" cy="82.46" r="2.5" fill="#f48a1f" stroke="none" stroke-width="0" />
<circle cx="391.24" cy="84.57" r="2.5" fill="#f48a1f" stroke="none" stroke-width="0" />
<circle cx="391.39" cy="88.58" r="2.5" fill="#f48a1f" stroke="none" stroke-width="0" />
<circle cx="391.30" cy="90.42" r="2.5" fill="#f48a1f" stroke="none" stroke-width="0" />
<circle cx="391.18" cy="94.46" r="2.5" fill="#f48a1f" stroke="none" stroke-width="0" />
<circle cx="391.06" cy="96.47" r="2.5" fill="#f48a1f" stroke="none" stroke-width="0" />
<circle cx="391.20" cy="99.86" r="2.5" fill="#f48a1f" stroke="none" stroke-width="0" />
<circle cx="391.10" cy="103.57" r="2.5" fill="#f48a1f" stroke="none" stroke-width="0" />
<circle cx="391.16" cy="106.23" r="2.5" fill="#f48a1f" stroke="none" stroke-width="0" />
<circle cx="390.83" cy="108.62" r="2.5" fill="#f48a1f" stroke="none" stroke-width="0" />
<circle cx="390.96" cy="111.40" r="2.5" fill="#f48a1f" stroke="none" stroke-width="0" />
<circle cx="391.02" cy="114.79" r="2.5" fill="#f48a1f" stroke="none" stroke-width="0" />
<circle cx="391.00" cy="123.24" r="2.3000000000000003" fill="#ffffff" stroke="#bdbdbd" stroke-width="0.7" />
<circle cx="391.00" cy="130.54" r="2.3000000000000003" fill="#ffffff" stroke="#bdbdbd" stroke-width="0.7" />
<circle cx="391.00" cy="140.82" r="2.3000000000000003" fill="#ffffff" stroke="#bdbdbd" stroke-width="0.7" />
<circle cx="391.00" cy="158.40" r="2.3000000000000003" fill="#ffffff" stroke="#bdbdbd" stroke-width="0.7" />
<circle cx="481.98" cy="78.62" r="2.4" fill="#b3b3b3" stroke="#c9c9c9" stroke-width="0.5" />
<circle cx="484.83" cy="79.18" r="2.4" fill="#b3b3b3" stroke="#c9c9c9" stroke-width="0.5" />
<circle cx="479.32" cy="81.78" r="2.4" fill="#b3b3b3" stroke="#c9c9c9" stroke-width="0.5" />
<circle cx="483.24" cy="81.68" r="2.4" fill="#b3b3b3" stroke="#c9c9c9" stroke-width="0.5" />
<circle cx="486.98" cy="82.26" r="2.4" fill="#b3b3b3" stroke="#c9c9c9" stroke-width="0.5" />
<circle cx="477.45" cy="85.68" r="2.4" fill="#b3b3b3" stroke="#c9c9c9" stroke-width="0.5" />
<circle cx="481.09" cy="85.72" r="2.4" fill="#b3b3b3" stroke="#c9c9c9" stroke-width="0.5" />
<circle cx="484.94" cy="85.49" r="2.4" fill="#b3b3b3" stroke="#c9c9c9" stroke-width="0.5" />
<circle cx="488.99" cy="85.20" r="2.4" fill="#b3b3b3" stroke="#c9c9c9" stroke-width="0.5" />
<circle cx="472.13" cy="88.28" r="2.4" fill="#b3b3b3" stroke="#c9c9c9" stroke-width="0.5" />
<circle cx="476.26" cy="89.05" r="2.4" fill="#b3b3b3" stroke="#c9c9c9" stroke-width="0.5" />
<circle cx="479.26" cy="89.09" r="2.4" fill="#b3b3b3" stroke="#c9c9c9" stroke-width="0.5" />
<circle cx="483.68" cy="88.80" r="2.4" fill="#b3b3b3" stroke="#c9c9c9" stroke-width="0.5" />
<circle cx="487.46" cy="88.92" r="2.4" fill="#b3b3b3" stroke="#c9c9c9" stroke-width="0.5" />
<circle cx="490.99" cy="88.48" r="2.4" fill="#b3b3b3" stroke="#c9c9c9" stroke-width="0.5" />
<circle cx="462.62" cy="91.64" r="2.4" fill="#b3b3b3" stroke="#c9c9c9" stroke-width="0.5" />
<circle cx="466.62" cy="92.22" r="2.4" fill="#b3b3b3" stroke="#c9c9c9" stroke-width="0.5" />
<circle cx="470.11" cy="91.93" r="2.4" fill="#b3b3b3" stroke="#c9c9c9" stroke-width="0.5" />
<circle cx="474.10" cy="92.01" r="2.4" fill="#b3b3b3" stroke="#c9c9c9" stroke-width="0.5" />
<circle cx="478.11" cy="92.25" r="2.4" fill="#b3b3b3" stroke="#c9c9c9" stroke-width="0.5" />
<circle cx="481.57" cy="92.31" r="2.4" fill="#b3b3b3" stroke="#c9c9c9" stroke-width="0.5" />
<circle cx="484.82" cy="92.19" r="2.4" fill="#b3b3b3" stroke="#c9c9c9" stroke-width="0.5" />
<circle cx="489.40" cy="92.21" r="2.4" fill="#b3b3b3" stroke="#c9c9c9" stroke-width="0.5" />
<circle cx="457.26" cy="95.44" r="2.4" fill="#b3b3b3" stroke="#c9c9c9" stroke-width="0.5" />
<circle cx="460.19" cy="94.84" r="2.4" fill="#b3b3b3" stroke="#c9c9c9" stroke-width="0.5" />
<circle cx="464.54" cy="95.76" r="2.4" fill="#b3b3b3" stroke="#c9c9c9" stroke-width="0.5" />
<circle cx="468.08" cy="95.25" r="2.4" fill="#b3b3b3" stroke="#c9c9c9" stroke-width="0.5" />
<circle cx="471.55" cy="94.82" r="2.4" fill="#b3b3b3" stroke="#c9c9c9" stroke-width="0.5" />
<circle cx="475.83" cy="95.04" r="2.4" fill="#b3b3b3" stroke="#c9c9c9" stroke-width="0.5" />
<circle cx="479.36" cy="95.26" r="2.4" fill="#b3b3b3" stroke="#c9c9c9" stroke-width="0.5" />
<circle cx="482.97" cy="95.73" r="2.4" fill="#b3b3b3" stroke="#c9c9c9" stroke-width="0.5" />
<circle cx="487.60" cy="94.89" r="2.4" fill="#b3b3b3" stroke="#c9c9c9" stroke-width="0.5" />
<circle cx="454.93" cy="98.85" r="2.4" fill="#b3b3b3" stroke="#c9c9c9" stroke-width="0.5" />
<circle cx="458.67" cy="98.91" r="2.4" fill="#b3b3b3" stroke="#c9c9c9" stroke-width="0.5" />
<circle cx="462.85" cy="98.33" r="2.4" fill="#b3b3b3" stroke="#c9c9c9" stroke-width="0.5" />
<circle cx="466.56" cy="98.33" r="2.4" fill="#b3b3b3" stroke="#c9c9c9" stroke-width="0.5" />
<circle cx="470.25" cy="98.56" r="2.4" fill="#b3b3b3" stroke="#c9c9c9" stroke-width="0.5" />
<circle cx="474.25" cy="98.18" r="2.4" fill="#b3b3b3" stroke="#c9c9c9" stroke-width="0.5" />
<circle cx="478.11" cy="98.39" r="2.4" fill="#b3b3b3" stroke="#c9c9c9" stroke-width="0.5" />
<circle cx="481.05" cy="98.73" r="2.4" fill="#b3b3b3" stroke="#c9c9c9" stroke-width="0.5" />
<circle cx="485.00" cy="98.70" r="2.4" fill="#b3b3b3" stroke="#c9c9c9" stroke-width="0.5" />
<circle cx="488.93" cy="98.75" r="2.4" fill="#b3b3b3" stroke="#c9c9c9" stroke-width="0.5" />
<circle cx="445.59" cy="102.02" r="2.4" fill="#b3b3b3" stroke="#c9c9c9" stroke-width="0.5" />
<circle cx="448.83" cy="101.88" r="2.4" fill="#b3b3b3" stroke="#c9c9c9" stroke-width="0.5" />
<circle cx="452.99" cy="102.37" r="2.4" fill="#b3b3b3" stroke="#c9c9c9" stroke-width="0.5" />
<circle cx="456.40" cy="101.62" r="2.4" fill="#b3b3b3" stroke="#c9c9c9" stroke-width="0.5" />
<circle cx="460.59" cy="102.11" r="2.4" fill="#b3b3b3" stroke="#c9c9c9" stroke-width="0.5" />
<circle cx="464.19" cy="101.87" r="2.4" fill="#b3b3b3" stroke="#c9c9c9" stroke-width="0.5" />
<circle cx="468.47" cy="102.39" r="2.4" fill="#b3b3b3" stroke="#c9c9c9" stroke-width="0.5" />
<circle cx="472.05" cy="101.71" r="2.4" fill="#b3b3b3" stroke="#c9c9c9" stroke-width="0.5" />
<circle cx="475.39" cy="101.87" r="2.4" fill="#b3b3b3" stroke="#c9c9c9" stroke-width="0.5" />
<circle cx="479.39" cy="101.48" r="2.4" fill="#b3b3b3" stroke="#c9c9c9" stroke-width="0.5" />
<circle cx="483.41" cy="102.39" r="2.4" fill="#b3b3b3" stroke="#c9c9c9" stroke-width="0.5" />
<circle cx="487.69" cy="101.79" r="2.4" fill="#b3b3b3" stroke="#c9c9c9" stroke-width="0.5" />
<circle cx="440.12" cy="105.63" r="2.4" fill="#b3b3b3" stroke="#c9c9c9" stroke-width="0.5" />
<circle cx="443.07" cy="104.79" r="2.4" fill="#b3b3b3" stroke="#c9c9c9" stroke-width="0.5" />
<circle cx="447.55" cy="104.96" r="2.4" fill="#b3b3b3" stroke="#c9c9c9" stroke-width="0.5" />
<circle cx="450.96" cy="105.30" r="2.4" fill="#b3b3b3" stroke="#c9c9c9" stroke-width="0.5" />
<circle cx="455.03" cy="104.98" r="2.4" fill="#b3b3b3" stroke="#c9c9c9" stroke-width="0.5" />
<circle cx="458.31" cy="105.07" r="2.4" fill="#b3b3b3" stroke="#c9c9c9" stroke-width="0.5" />
<circle cx="462.50" cy="105.58" r="2.4" fill="#b3b3b3" stroke="#c9c9c9" stroke-width="0.5" />
<circle cx="466.19" cy="104.86" r="2.4" fill="#b3b3b3" stroke="#c9c9c9" stroke-width="0.5" />
<circle cx="470.55" cy="105.38" r="2.4" fill="#b3b3b3" stroke="#c9c9c9" stroke-width="0.5" />
<circle cx="473.81" cy="105.43" r="2.4" fill="#b3b3b3" stroke="#c9c9c9" stroke-width="0.5" />
<circle cx="477.62" cy="105.08" r="2.4" fill="#b3b3b3" stroke="#c9c9c9" stroke-width="0.5" />
<circle cx="481.12" cy="105.03" r="2.4" fill="#b3b3b3" stroke="#c9c9c9" stroke-width="0.5" />
<circle cx="485.12" cy="105.04" r="2.4" fill="#b3b3b3" stroke="#c9c9c9" stroke-width="0.5" />
<circle cx="437.70" cy="108.94" r="2.4" fill="#b3b3b3" stroke="#c9c9c9" stroke-width="0.5" />
<circle cx="441.30" cy="108.01" r="2.4" fill="#b3b3b3" stroke="#c9c9c9" stroke-width="0.5" />
<circle cx="445.64" cy="108.25" r="2.4" fill="#b3b3b3" stroke="#c9c9c9" stroke-width="0.5" />
<circle cx="448.76" cy="108.39" r="2.4" fill="#b3b3b3" stroke="#c9c9c9" stroke-width="0.5" />
<circle cx="453.37" cy="108.08" r="2.4" fill="#b3b3b3" stroke="#c9c9c9" stroke-width="0.5" />
<circle cx="457.23" cy="108.76" r="2.4" fill="#b3b3b3" stroke="#c9c9c9" stroke-width="0.5" />
<circle cx="460.95" cy="108.28" r="2.4" fill="#b3b3b3" stroke="#c9c9c9" stroke-width="0.5" />
<circle cx="463.95" cy="108.66" r="2.4" fill="#b3b3b3" stroke="#c9c9c9" stroke-width="0.5" />
<circle cx="468.33" cy="108.15" r="2.4" fill="#b3b3b3" stroke="#c9c9c9" stroke-width="0.5" />
<circle cx="472.47" cy="108.44" r="2.4" fill="#b3b3b3" stroke="#c9c9c9" stroke-width="0.5" />
<circle cx="475.62" cy="108.77" r="2.4" fill="#b3b3b3" stroke="#c9c9c9" stroke-width="0.5" />
<circle cx="479.89" cy="108.43" r="2.4" fill="#b3b3b3" stroke="#c9c9c9" stroke-width="0.5" />
<circle cx="482.93" cy="108.76" r="2.4" fill="#b3b3b3" stroke="#c9c9c9" stroke-width="0.5" />
<circle cx="487.10" cy="108.88" r="2.4" fill="#b3b3b3" stroke="#c9c9c9" stroke-width="0.5" />
<circle cx="435.95" cy="111.50" r="2.4" fill="#b3b3b3" stroke="#c9c9c9" stroke-width="0.5" />
<circle cx="439.28" cy="112.23" r="2.4" fill="#b3b3b3" stroke="#c9c9c9" stroke-width="0.5" />
<circle cx="443.41" cy="111.91" r="2.4" fill="#b3b3b3" stroke="#c9c9c9" stroke-width="0.5" />
<circle cx="446.94" cy="112.17" r="2.4" fill="#b3b3b3" stroke="#c9c9c9" stroke-width="0.5" />
<circle cx="451.09" cy="112.21" r="2.4" fill="#b3b3b3" stroke="#c9c9c9" stroke-width="0.5" />
<circle cx="454.95" cy="111.47" r="2.4" fill="#b3b3b3" stroke="#c9c9c9" stroke-width="0.5" />
<circle cx="458.61" cy="111.58" r="2.4" fill="#b3b3b3" stroke="#c9c9c9" stroke-width="0.5" />
<circle cx="462.26" cy="112.04" r="2.4" fill="#b3b3b3" stroke="#c9c9c9" stroke-width="0.5" />
<circle cx="466.45" cy="111.71" r="2.4" fill="#b3b3b3" stroke="#c9c9c9" stroke-width="0.5" />
<circle cx="469.84" cy="111.78" r="2.4" fill="#b3b3b3" stroke="#c9c9c9" stroke-width="0.5" />
<circle cx="474.07" cy="111.42" r="2.4" fill="#b3b3b3" stroke="#c9c9c9" stroke-width="0.5" />
<circle cx="477.84" cy="111.38" r="2.4" fill="#b3b3b3" stroke="#c9c9c9" stroke-width="0.5" />
<circle cx="481.50" cy="112.11" r="2.4" fill="#b3b3b3" stroke="#c9c9c9" stroke-width="0.5" />
<circle cx="485.35" cy="111.75" r="2.4" fill="#b3b3b3" stroke="#c9c9c9" stroke-width="0.5" />
<circle cx="437.63" cy="115.36" r="2.4" fill="#b3b3b3" stroke="#c9c9c9" stroke-width="0.5" />
<circle cx="441.53" cy="115.15" r="2.4" fill="#b3b3b3" stroke="#c9c9c9" stroke-width="0.5" />
<circle cx="445.14" cy="114.77" r="2.4" fill="#b3b3b3" stroke="#c9c9c9" stroke-width="0.5" />
<circle cx="449.26" cy="114.92" r="2.4" fill="#b3b3b3" stroke="#c9c9c9" stroke-width="0.5" />
<circle cx="452.87" cy="115.41" r="2.4" fill="#b3b3b3" stroke="#c9c9c9" stroke-width="0.5" />
<circle cx="456.50" cy="114.62" r="2.4" fill="#b3b3b3" stroke="#c9c9c9" stroke-width="0.5" />
<circle cx="460.97" cy="114.98" r="2.4" fill="#b3b3b3" stroke="#c9c9c9" stroke-width="0.5" />
<circle cx="464.65" cy="114.81" r="2.4" fill="#b3b3b3" stroke="#c9c9c9" stroke-width="0.5" />
<circle cx="467.97" cy="115.35" r="2.4" fill="#b3b3b3" stroke="#c9c9c9" stroke-width="0.5" />
<circle cx="472.00" cy="115.17" r="2.4" fill="#b3b3b3" stroke="#c9c9c9" stroke-width="0.5" />
<circle cx="475.66" cy="115.29" r="2.4" fill="#b3b3b3" stroke="#c9c9c9" stroke-width="0.5" />
<circle cx="479.63" cy="115.39" r="2.4" fill="#b3b3b3" stroke="#c9c9c9" stroke-width="0.5" />
<circle cx="483.75" cy="114.69" r="2.4" fill="#b3b3b3" stroke="#c9c9c9" stroke-width="0.5" />
<circle cx="487.60" cy="114.98" r="2.4" fill="#b3b3b3" stroke="#c9c9c9" stroke-width="0.5" />
<circle cx="439.85" cy="118.33" r="2.4" fill="#b3b3b3" stroke="#c9c9c9" stroke-width="0.5" />
<circle cx="443.31" cy="118.71" r="2.4" fill="#b3b3b3" stroke="#c9c9c9" stroke-width="0.5" />
<circle cx="447.77" cy="118.03" r="2.4" fill="#b3b3b3" stroke="#c9c9c9" stroke-width="0.5" />
<circle cx="451.03" cy="118.66" r="2.4" fill="#b3b3b3" stroke="#c9c9c9" stroke-width="0.5" />
<circle cx="455.20" cy="118.87" r="2.4" fill="#b3b3b3" stroke="#c9c9c9" stroke-width="0.5" />
<circle cx="458.69" cy="117.97" r="2.4" fill="#b3b3b3" stroke="#c9c9c9" stroke-width="0.5" />
<circle cx="462.93" cy="118.83" r="2.4" fill="#b3b3b3" stroke="#c9c9c9" stroke-width="0.5" />
<circle cx="466.33" cy="118.37" r="2.4" fill="#b3b3b3" stroke="#c9c9c9" stroke-width="0.5" />
<circle cx="470.05" cy="118.68" r="2.4" fill="#b3b3b3" stroke="#c9c9c9" stroke-width="0.5" />
<circle cx="473.62" cy="118.05" r="2.4" fill="#b3b3b3" stroke="#c9c9c9" stroke-width="0.5" />
<circle cx="478.17" cy="118.01" r="2.4" fill="#b3b3b3" stroke="#c9c9c9" stroke-width="0.5" />
<circle cx="481.83" cy="118.60" r="2.4" fill="#b3b3b3" stroke="#c9c9c9" stroke-width="0.5" />
<circle cx="436.30" cy="105.66" r="2.4" fill="#b3b3b3" stroke="#c9c9c9" stroke-width="0.5" />
<circle cx="441.15" cy="105.66" r="2.4" fill="#b3b3b3" stroke="#c9c9c9" stroke-width="0.5" />
<circle cx="445.11" cy="105.66" r="2.4" fill="#b3b3b3" stroke="#c9c9c9" stroke-width="0.5" />
<circle cx="436.30" cy="109.05" r="2.4" fill="#b3b3b3" stroke="#c9c9c9" stroke-width="0.5" />
<circle cx="441.15" cy="109.05" r="2.4" fill="#b3b3b3" stroke="#c9c9c9" stroke-width="0.5" />
<circle cx="445.11" cy="109.05" r="2.4" fill="#b3b3b3" stroke="#c9c9c9" stroke-width="0.5" />
<circle cx="406.20" cy="112.96" r="2.4" fill="#b3b3b3" stroke="#c9c9c9" stroke-width="0.5" />
<circle cx="421.25" cy="112.96" r="2.4" fill="#b3b3b3" stroke="#c9c9c9" stroke-width="0.5" />
<circle cx="430.06" cy="112.96" r="2.4" fill="#b3b3b3" stroke="#c9c9c9" stroke-width="0.5" />
<circle cx="436.30" cy="112.96" r="2.4" fill="#b3b3b3" stroke="#c9c9c9" stroke-width="0.5" />
<circle cx="441.15" cy="112.96" r="2.4" fill="#b3b3b3" stroke="#c9c9c9" stroke-width="0.5" />
<circle cx="445.11" cy="112.96" r="2.4" fill="#b3b3b3" stroke="#c9c9c9" stroke-width="0.5" />
<circle cx="448.45" cy="112.96" r="2.4" fill="#b3b3b3" stroke="#c9c9c9" stroke-width="0.5" />
<circle cx="451.35" cy="112.96" r="2.4" fill="#b3b3b3" stroke="#c9c9c9" stroke-width="0.5" />
<circle cx="453.91" cy="112.96" r="2.4" fill="#b3b3b3" stroke="#c9c9c9" stroke-width="0.5" />
<circle cx="456.20" cy="112.96" r="2.4" fill="#b3b3b3" stroke="#c9c9c9" stroke-width="0.5" />
<circle cx="406.20" cy="117.58" r="2.4" fill="#b3b3b3" stroke="#c9c9c9" stroke-width="0.5" />
<circle cx="421.25" cy="117.58" r="2.4" fill="#b3b3b3" stroke="#c9c9c9" stroke-width="0.5" />
<circle cx="430.06" cy="117.58" r="2.4" fill="#b3b3b3" stroke="#c9c9c9" stroke-width="0.5" />
<circle cx="436.30" cy="117.58" r="2.4" fill="#b3b3b3" stroke="#c9c9c9" stroke-width="0.5" />
<circle cx="445.11" cy="117.58" r="2.4" fill="#b3b3b3" stroke="#c9c9c9" stroke-width="0.5" />
<circle cx="451.35" cy="117.58" r="2.4" fill="#b3b3b3" stroke="#c9c9c9" stroke-width="0.5" />
<circle cx="453.91" cy="117.58" r="2.4" fill="#b3b3b3" stroke="#c9c9c9" stroke-width="0.5" />
<circle cx="456.20" cy="117.58" r="2.4" fill="#b3b3b3" stroke="#c9c9c9" stroke-width="0.5" />
<circle cx="460.16" cy="117.58" r="2.4" fill="#b3b3b3" stroke="#c9c9c9" stroke-width="0.5" />
<circle cx="466.41" cy="117.58" r="2.4" fill="#b3b3b3" stroke="#c9c9c9" stroke-width="0.5" />
<circle cx="468.96" cy="117.58" r="2.4" fill="#b3b3b3" stroke="#c9c9c9" stroke-width="0.5" />
<circle cx="471.25" cy="117.58" r="2.4" fill="#b3b3b3" stroke="#c9c9c9" stroke-width="0.5" />
<circle cx="473.32" cy="117.58" r="2.4" fill="#b3b3b3" stroke="#c9c9c9" stroke-width="0.5" />
<circle cx="480.06" cy="117.58" r="2.4" fill="#b3b3b3" stroke="#c9c9c9" stroke-width="0.5" />
<circle cx="485.19" cy="117.58" r="2.4" fill="#b3b3b3" stroke="#c9c9c9" stroke-width="0.5" />
<circle cx="421.25" cy="123.24" r="2.4" fill="#b3b3b3" stroke="#c9c9c9" stroke-width="0.5" />
<circle cx="436.30" cy="123.24" r="2.4" fill="#b3b3b3" stroke="#c9c9c9" stroke-width="0.5" />
<circle cx="441.15" cy="123.24" r="2.4" fill="#b3b3b3" stroke="#c9c9c9" stroke-width="0.5" />
<circle cx="445.11" cy="123.24" r="2.4" fill="#b3b3b3" stroke="#c9c9c9" stroke-width="0.5" />
<circle cx="448.45" cy="123.24" r="2.4" fill="#b3b3b3" stroke="#c9c9c9" stroke-width="0.5" />
<circle cx="453.91" cy="123.24" r="2.4" fill="#b3b3b3" stroke="#c9c9c9" stroke-width="0.5" />
<circle cx="456.20" cy="123.24" r="2.4" fill="#b3b3b3" stroke="#c9c9c9" stroke-width="0.5" />
<circle cx="458.27" cy="123.24" r="2.4" fill="#b3b3b3" stroke="#c9c9c9" stroke-width="0.5" />
<circle cx="460.16" cy="123.24" r="2.4" fill="#b3b3b3" stroke="#c9c9c9" stroke-width="0.5" />
<circle cx="463.51" cy="123.24" r="2.4" fill="#b3b3b3" stroke="#c9c9c9" stroke-width="0.5" />
<circle cx="466.41" cy="123.24" r="2.4" fill="#b3b3b3" stroke="#c9c9c9" stroke-width="0.5" />
<circle cx="475.21" cy="123.24" r="2.4" fill="#b3b3b3" stroke="#c9c9c9" stroke-width="0.5" />
<circle cx="476.95" cy="123.24" r="2.4" fill="#b3b3b3" stroke="#c9c9c9" stroke-width="0.5" />
<circle cx="485.19" cy="123.24" r="2.4" fill="#b3b3b3" stroke="#c9c9c9" stroke-width="0.5" />
<circle cx="421.25" cy="130.54" r="2.4" fill="#b3b3b3" stroke="#c9c9c9" stroke-width="0.5" />
<circle cx="445.11" cy="130.54" r="2.4" fill="#b3b3b3" stroke="#c9c9c9" stroke-width="0.5" />
<circle cx="456.20" cy="130.54" r="2.4" fill="#b3b3b3" stroke="#c9c9c9" stroke-width="0.5" />
<circle cx="458.27" cy="130.54" r="2.4" fill="#b3b3b3" stroke="#c9c9c9" stroke-width="0.5" />
<circle cx="468.96" cy="130.54" r="2.4" fill="#b3b3b3" stroke="#c9c9c9" stroke-width="0.5" />
<circle cx="471.25" cy="130.54" r="2.4" fill="#b3b3b3" stroke="#c9c9c9" stroke-width="0.5" />
<circle cx="473.32" cy="130.54" r="2.4" fill="#b3b3b3" stroke="#c9c9c9" stroke-width="0.5" />
<circle cx="480.06" cy="130.54" r="2.4" fill="#b3b3b3" stroke="#c9c9c9" stroke-width="0.5" />
<circle cx="482.77" cy="130.54" r="2.4" fill="#b3b3b3" stroke="#c9c9c9" stroke-width="0.5" />
<circle cx="468.96" cy="140.82" r="2.4" fill="#b3b3b3" stroke="#c9c9c9" stroke-width="0.5" />
<circle cx="473.32" cy="140.82" r="2.4" fill="#b3b3b3" stroke="#c9c9c9" stroke-width="0.5" />
<circle cx="480.06" cy="140.82" r="2.4" fill="#b3b3b3" stroke="#c9c9c9" stroke-width="0.5" />
<circle cx="485.19" cy="140.82" r="2.4" fill="#b3b3b3" stroke="#c9c9c9" stroke-width="0.5" />
<circle cx="480.06" cy="158.40" r="2.4" fill="#b3b3b3" stroke="#c9c9c9" stroke-width="0.5" />
<circle cx="470.14" cy="176.00" r="2.4" fill="#b3b3b3" stroke="#c9c9c9" stroke-width="0.5" />
<circle cx="472.31" cy="176.00" r="2.4" fill="#b3b3b3" stroke="#c9c9c9" stroke-width="0.5" />
<circle cx="441.15" cy="117.58" r="2.2" fill="#a8a8a8" stroke="#262626" stroke-width="0.95" />
<circle cx="448.45" cy="117.58" r="2.2" fill="#a8a8a8" stroke="#262626" stroke-width="0.95" />
<circle cx="463.51" cy="117.58" r="2.2" fill="#a8a8a8" stroke="#262626" stroke-width="0.95" />
<circle cx="476.10" cy="117.58" r="2.2" fill="#a8a8a8" stroke="#262626" stroke-width="0.95" />
<circle cx="477.77" cy="117.58" r="2.2" fill="#a8a8a8" stroke="#262626" stroke-width="0.95" />
<circle cx="406.20" cy="123.24" r="2.2" fill="#a8a8a8" stroke="#262626" stroke-width="0.95" />
<circle cx="430.06" cy="123.24" r="2.2" fill="#a8a8a8" stroke="#262626" stroke-width="0.95" />
<circle cx="451.35" cy="123.24" r="2.2" fill="#a8a8a8" stroke="#262626" stroke-width="0.95" />
<circle cx="468.96" cy="123.24" r="2.2" fill="#a8a8a8" stroke="#262626" stroke-width="0.95" />
<circle cx="471.25" cy="123.24" r="2.2" fill="#a8a8a8" stroke="#262626" stroke-width="0.95" />
<circle cx="473.32" cy="123.24" r="2.2" fill="#a8a8a8" stroke="#262626" stroke-width="0.95" />
<circle cx="406.20" cy="130.54" r="2.3000000000000003" fill="#ffffff" stroke="#bdbdbd" stroke-width="0.7" />
<circle cx="430.06" cy="130.54" r="2.2" fill="#a8a8a8" stroke="#262626" stroke-width="0.95" />
<circle cx="436.30" cy="130.54" r="2.2" fill="#a8a8a8" stroke="#262626" stroke-width="0.95" />
<circle cx="441.15" cy="130.54" r="2.2" fill="#a8a8a8" stroke="#262626" stroke-width="0.95" />
<circle cx="448.45" cy="130.54" r="2.2" fill="#a8a8a8" stroke="#262626" stroke-width="0.95" />
<circle cx="451.35" cy="130.54" r="2.2" fill="#a8a8a8" stroke="#262626" stroke-width="0.95" />
<circle cx="453.91" cy="130.54" r="2.2" fill="#a8a8a8" stroke="#262626" stroke-width="0.95" />
<circle cx="461.90" cy="130.54" r="2.2" fill="#a8a8a8" stroke="#262626" stroke-width="0.95" />
<circle cx="463.51" cy="130.54" r="2.2" fill="#a8a8a8" stroke="#262626" stroke-width="0.95" />
<circle cx="466.41" cy="130.54" r="2.2" fill="#a8a8a8" stroke="#262626" stroke-width="0.95" />
<circle cx="406.20" cy="140.82" r="2.3000000000000003" fill="#ffffff" stroke="#bdbdbd" stroke-width="0.7" />
<circle cx="421.25" cy="140.82" r="2.3000000000000003" fill="#ffffff" stroke="#bdbdbd" stroke-width="0.7" />
<circle cx="430.06" cy="140.82" r="2.2" fill="#a8a8a8" stroke="#262626" stroke-width="0.95" />
<circle cx="436.30" cy="140.82" r="2.2" fill="#a8a8a8" stroke="#262626" stroke-width="0.95" />
<circle cx="441.15" cy="140.82" r="2.2" fill="#a8a8a8" stroke="#262626" stroke-width="0.95" />
<circle cx="445.11" cy="140.82" r="2.2" fill="#a8a8a8" stroke="#262626" stroke-width="0.95" />
<circle cx="448.45" cy="140.82" r="2.2" fill="#a8a8a8" stroke="#262626" stroke-width="0.95" />
<circle cx="451.35" cy="140.82" r="2.2" fill="#a8a8a8" stroke="#262626" stroke-width="0.95" />
<circle cx="453.91" cy="140.82" r="2.2" fill="#a8a8a8" stroke="#262626" stroke-width="0.95" />
<circle cx="456.20" cy="140.82" r="2.2" fill="#a8a8a8" stroke="#262626" stroke-width="0.95" />
<circle cx="458.27" cy="140.82" r="2.2" fill="#a8a8a8" stroke="#262626" stroke-width="0.95" />
<circle cx="460.16" cy="140.82" r="2.2" fill="#a8a8a8" stroke="#262626" stroke-width="0.95" />
<circle cx="463.51" cy="140.82" r="2.2" fill="#a8a8a8" stroke="#262626" stroke-width="0.95" />
<circle cx="466.41" cy="140.82" r="2.2" fill="#a8a8a8" stroke="#262626" stroke-width="0.95" />
<circle cx="487.87" cy="140.82" r="2.2" fill="#5aa3a4" stroke="#1a2626" stroke-width="0.95" />
<circle cx="406.20" cy="158.40" r="2.3000000000000003" fill="#ffffff" stroke="#bdbdbd" stroke-width="0.7" />
<circle cx="421.25" cy="158.40" r="2.3000000000000003" fill="#ffffff" stroke="#bdbdbd" stroke-width="0.7" />
<circle cx="430.06" cy="158.40" r="2.3000000000000003" fill="#ffffff" stroke="#bdbdbd" stroke-width="0.7" />
<circle cx="436.30" cy="158.40" r="2.2" fill="#a8a8a8" stroke="#262626" stroke-width="0.95" />
<circle cx="441.15" cy="158.40" r="2.2" fill="#a8a8a8" stroke="#262626" stroke-width="0.95" />
<circle cx="445.11" cy="158.40" r="2.2" fill="#a8a8a8" stroke="#262626" stroke-width="0.95" />
<circle cx="448.45" cy="158.40" r="2.2" fill="#a8a8a8" stroke="#262626" stroke-width="0.95" />
<circle cx="451.35" cy="158.40" r="2.2" fill="#a8a8a8" stroke="#262626" stroke-width="0.95" />
<circle cx="453.91" cy="158.40" r="2.2" fill="#a8a8a8" stroke="#262626" stroke-width="0.95" />
<circle cx="456.20" cy="158.40" r="2.2" fill="#a8a8a8" stroke="#262626" stroke-width="0.95" />
<circle cx="458.27" cy="158.40" r="2.2" fill="#a8a8a8" stroke="#262626" stroke-width="0.95" />
<circle cx="460.16" cy="158.40" r="2.2" fill="#a8a8a8" stroke="#262626" stroke-width="0.95" />
<circle cx="463.51" cy="158.40" r="2.2" fill="#a8a8a8" stroke="#262626" stroke-width="0.95" />
<circle cx="465.00" cy="158.40" r="2.2" fill="#a8a8a8" stroke="#262626" stroke-width="0.95" />
<circle cx="467.72" cy="158.40" r="2.2" fill="#a8a8a8" stroke="#262626" stroke-width="0.95" />
<circle cx="470.14" cy="158.40" r="2.2" fill="#a8a8a8" stroke="#262626" stroke-width="0.95" />
<circle cx="472.31" cy="158.40" r="2.2" fill="#a8a8a8" stroke="#262626" stroke-width="0.95" />
<circle cx="474.29" cy="158.40" r="2.2" fill="#a8a8a8" stroke="#262626" stroke-width="0.95" />
<circle cx="406.20" cy="176.00" r="2.3000000000000003" fill="#ffffff" stroke="#bdbdbd" stroke-width="0.7" />
<circle cx="421.25" cy="176.00" r="2.3000000000000003" fill="#ffffff" stroke="#bdbdbd" stroke-width="0.7" />
<circle cx="430.06" cy="176.00" r="2.3000000000000003" fill="#ffffff" stroke="#bdbdbd" stroke-width="0.7" />
<circle cx="436.30" cy="176.00" r="2.3000000000000003" fill="#ffffff" stroke="#bdbdbd" stroke-width="0.7" />
<circle cx="441.15" cy="176.00" r="2.2" fill="#a8a8a8" stroke="#262626" stroke-width="0.95" />
<circle cx="445.11" cy="176.00" r="2.2" fill="#a8a8a8" stroke="#262626" stroke-width="0.95" />
<circle cx="448.45" cy="176.00" r="2.2" fill="#a8a8a8" stroke="#262626" stroke-width="0.95" />
<circle cx="451.35" cy="176.00" r="2.2" fill="#a8a8a8" stroke="#262626" stroke-width="0.95" />
<circle cx="453.91" cy="176.00" r="2.2" fill="#a8a8a8" stroke="#262626" stroke-width="0.95" />
<circle cx="456.20" cy="176.00" r="2.2" fill="#a8a8a8" stroke="#262626" stroke-width="0.95" />
<circle cx="458.27" cy="176.00" r="2.2" fill="#a8a8a8" stroke="#262626" stroke-width="0.95" />
<circle cx="460.16" cy="176.00" r="2.2" fill="#a8a8a8" stroke="#262626" stroke-width="0.95" />
<circle cx="463.51" cy="176.00" r="2.2" fill="#a8a8a8" stroke="#262626" stroke-width="0.95" />
<circle cx="465.00" cy="176.00" r="2.2" fill="#a8a8a8" stroke="#262626" stroke-width="0.95" />
<circle cx="467.72" cy="176.00" r="2.2" fill="#a8a8a8" stroke="#262626" stroke-width="0.95" />
<circle cx="476.10" cy="176.00" r="2.6" fill="#5aa3a4" stroke="none" stroke-width="0" />
<circle cx="477.20" cy="176.00" r="2.6" fill="#5aa3a4" stroke="none" stroke-width="0" />
<circle cx="482.13" cy="176.00" r="2.2" fill="#5aa3a4" stroke="#1a2626" stroke-width="0.95" />
<circle cx="487.62" cy="176.00" r="2.2" fill="#5aa3a4" stroke="#1a2626" stroke-width="0.95" />
<circle cx="491.75" cy="176.00" r="2.2" fill="#5aa3a4" stroke="#1a2626" stroke-width="0.95" />
<circle cx="492.90" cy="73.90" r="2.4" fill="#b3b3b3" stroke="#c9c9c9" stroke-width="0.5" />
<circle cx="498.30" cy="76.00" r="2.4" fill="#b3b3b3" stroke="#c9c9c9" stroke-width="0.5" />
<circle cx="502.60" cy="79.20" r="2.4" fill="#b3b3b3" stroke="#c9c9c9" stroke-width="0.5" />
<circle cx="506.90" cy="79.20" r="2.4" fill="#b3b3b3" stroke="#c9c9c9" stroke-width="0.5" />
<circle cx="511.80" cy="78.20" r="2.4" fill="#b3b3b3" stroke="#c9c9c9" stroke-width="0.5" />
<circle cx="495.00" cy="98.60" r="2.4" fill="#b3b3b3" stroke="#c9c9c9" stroke-width="0.5" />
<circle cx="496.10" cy="96.50" r="2.4" fill="#b3b3b3" stroke="#c9c9c9" stroke-width="0.5" />
<circle cx="496.00" cy="97.80" r="2.4" fill="#b3b3b3" stroke="#c9c9c9" stroke-width="0.5" />
<circle cx="494.70" cy="100.40" r="2.4" fill="#b3b3b3" stroke="#c9c9c9" stroke-width="0.5" />
<circle cx="524.80" cy="56.60" r="2.4" fill="#b3b3b3" stroke="#c9c9c9" stroke-width="0.5" />
<circle cx="497.80" cy="75.90" r="2.4" fill="#b3b3b3" stroke="#c9c9c9" stroke-width="0.5" />
<circle cx="499.00" cy="106.00" r="2.4" fill="#b3b3b3" stroke="#c9c9c9" stroke-width="0.5" />
<circle cx="497.00" cy="110.00" r="2.4" fill="#b3b3b3" stroke="#c9c9c9" stroke-width="0.5" />
<circle cx="493.00" cy="116.00" r="2.4" fill="#b3b3b3" stroke="#c9c9c9" stroke-width="0.5" />
<circle cx="542.40" cy="35.80" r="2.2" fill="#a8a8a8" stroke="#262626" stroke-width="0.95" />
<circle cx="524.50" cy="43.30" r="2.2" fill="#a8a8a8" stroke="#262626" stroke-width="0.95" />
<circle cx="493.30" cy="81.40" r="2.2" fill="#a8a8a8" stroke="#262626" stroke-width="0.95" />
<circle cx="501.50" cy="85.30" r="2.2" fill="#a8a8a8" stroke="#262626" stroke-width="0.95" />
<circle cx="493.60" cy="81.60" r="2.2" fill="#a8a8a8" stroke="#262626" stroke-width="0.95" />
<circle cx="441.30" cy="102.30" r="2.2" fill="#a8a8a8" stroke="#262626" stroke-width="0.95" />
<circle cx="448.80" cy="102.30" r="2.2" fill="#a8a8a8" stroke="#262626" stroke-width="0.95" />
<circle cx="468.20" cy="104.20" r="2.2" fill="#a8a8a8" stroke="#262626" stroke-width="0.95" />
<circle cx="458.50" cy="109.10" r="2.2" fill="#a8a8a8" stroke="#262626" stroke-width="0.95" />
<circle cx="464.00" cy="113.20" r="2.2" fill="#a8a8a8" stroke="#262626" stroke-width="0.95" />
<circle cx="469.20" cy="117.70" r="2.2" fill="#a8a8a8" stroke="#262626" stroke-width="0.95" />
<circle cx="478.20" cy="117.70" r="2.2" fill="#a8a8a8" stroke="#262626" stroke-width="0.95" />
<circle cx="482.10" cy="117.70" r="2.2" fill="#a8a8a8" stroke="#262626" stroke-width="0.95" />
<circle cx="451.80" cy="122.90" r="2.2" fill="#a8a8a8" stroke="#262626" stroke-width="0.95" />
<circle cx="469.80" cy="122.90" r="2.2" fill="#a8a8a8" stroke="#262626" stroke-width="0.95" />
<circle cx="472.40" cy="122.90" r="2.2" fill="#a8a8a8" stroke="#262626" stroke-width="0.95" />
<circle cx="475.60" cy="122.90" r="2.2" fill="#a8a8a8" stroke="#262626" stroke-width="0.95" />
<circle cx="430.20" cy="109.00" r="2.2" fill="#a8a8a8" stroke="#262626" stroke-width="0.95" />
<circle cx="460.60" cy="71.50" r="2.6" fill="#f48a1f" stroke="none" stroke-width="0" />
<circle cx="498.90" cy="62.00" r="2.6" fill="#f48a1f" stroke="none" stroke-width="0" />
<circle cx="482.80" cy="73.80" r="2.6" fill="#f48a1f" stroke="none" stroke-width="0" />
<circle cx="452.00" cy="90.00" r="2.6" fill="#f48a1f" stroke="none" stroke-width="0" />
<circle cx="452.00" cy="92.30" r="2.6" fill="#f48a1f" stroke="none" stroke-width="0" />
<circle cx="448.60" cy="95.70" r="2.6" fill="#f48a1f" stroke="none" stroke-width="0" />
<circle cx="436.50" cy="97.80" r="2.6" fill="#f48a1f" stroke="none" stroke-width="0" />
<circle cx="421.50" cy="71.60" r="2.6" fill="#f48a1f" stroke="none" stroke-width="0" />
<circle cx="406.30" cy="91.60" r="2.6" fill="#f48a1f" stroke="none" stroke-width="0" />
<circle cx="421.50" cy="100.30" r="2.6" fill="#f48a1f" stroke="none" stroke-width="0" />
<circle cx="430.20" cy="105.80" r="2.6" fill="#f48a1f" stroke="none" stroke-width="0" />
<circle cx="476.60" cy="72.30" r="2.2" fill="#f48a1f" stroke="#2a2016" stroke-width="0.95" />
<circle cx="480.20" cy="72.30" r="2.2" fill="#f48a1f" stroke="#2a2016" stroke-width="0.95" />
<circle cx="445.40" cy="91.60" r="2.2" fill="#f48a1f" stroke="#2a2016" stroke-width="0.95" />
<circle cx="406.30" cy="105.80" r="2.2" fill="#f48a1f" stroke="#2a2016" stroke-width="0.95" />
<circle cx="406.30" cy="109.10" r="2.2" fill="#f48a1f" stroke="#2a2016" stroke-width="0.95" />
<circle cx="481.00" cy="72.80" r="2.2" fill="#f48a1f" stroke="#2a2016" stroke-width="0.95" />
<circle cx="520.90" cy="68.50" r="2.2" fill="#5aa3a4" stroke="#1a2626" stroke-width="0.95" />
<circle cx="518.70" cy="70.60" r="2.6" fill="#5aa3a4" stroke="none" stroke-width="0" />
<circle cx="524.10" cy="71.70" r="2.6" fill="#5aa3a4" stroke="none" stroke-width="0" />
<circle cx="529.50" cy="88.30" r="2.2" fill="#5aa3a4" stroke="#1a2626" stroke-width="0.95" />
<circle cx="506.30" cy="93.20" r="2.6" fill="#5aa3a4" stroke="none" stroke-width="0" />
<circle cx="513.40" cy="98.00" r="2.2" fill="#5aa3a4" stroke="#1a2626" stroke-width="0.95" />
<circle cx="518.30" cy="95.40" r="2.2" fill="#5aa3a4" stroke="#1a2626" stroke-width="0.95" />
<circle cx="506.70" cy="109.10" r="2.2" fill="#5aa3a4" stroke="#1a2626" stroke-width="0.95" />
<circle cx="496.90" cy="112.90" r="2.6" fill="#5aa3a4" stroke="none" stroke-width="0" />
<circle cx="500.70" cy="117.50" r="2.2" fill="#5aa3a4" stroke="#1a2626" stroke-width="0.95" />
<circle cx="502.90" cy="117.50" r="2.6" fill="#5aa3a4" stroke="none" stroke-width="0" />
<circle cx="520.10" cy="123.20" r="2.2" fill="#5aa3a4" stroke="#1a2626" stroke-width="0.95" />
<circle cx="491.70" cy="131.00" r="2.6" fill="#5aa3a4" stroke="none" stroke-width="0" />
<circle cx="497.70" cy="131.00" r="2.2" fill="#5aa3a4" stroke="#1a2626" stroke-width="0.95" />
<circle cx="491.70" cy="158.50" r="2.2" fill="#5aa3a4" stroke="#1a2626" stroke-width="0.95" />
<circle cx="496.90" cy="158.50" r="2.2" fill="#5aa3a4" stroke="#1a2626" stroke-width="0.95" />
<circle cx="515.80" cy="175.70" r="2.2" fill="#5aa3a4" stroke="#1a2626" stroke-width="0.95" />
<text x="564.8" y="24.1" font-size="11.2" font-weight="700" text-anchor="start" fill="#000" >Significant</text>
<text x="567.8" y="100.6" font-size="11.2" font-weight="700" text-anchor="start" fill="#000" >Non-significant</text>
<circle cx="571.10" cy="37.30" r="3.6" fill="#f48a1f" stroke="#2b2b2b" stroke-width="1.25" />
<text x="583" y="40.599999999999994" font-size="9.4" font-weight="400" text-anchor="start" fill="#222" >Expanded TA TCRs</text>
<circle cx="571.10" cy="50.60" r="4.2" fill="#f48a1f" stroke="none" stroke-width="0" />
<text x="583" y="53.9" font-size="9.4" font-weight="400" text-anchor="start" fill="#222" >Expanded all TCRs</text>
<circle cx="571.10" cy="63.90" r="3.6" fill="#5aa3a4" stroke="#1e2e2e" stroke-width="1.25" />
<text x="583" y="67.2" font-size="9.4" font-weight="400" text-anchor="start" fill="#222" >Contracted TA TCRs</text>
<circle cx="571.10" cy="77.50" r="4.2" fill="#5aa3a4" stroke="none" stroke-width="0" />
<text x="583" y="80.8" font-size="9.4" font-weight="400" text-anchor="start" fill="#222" >Contracted all TCR</text>
<circle cx="571.10" cy="111.60" r="3.6" fill="#a8a8a8" stroke="#2b2b2b" stroke-width="1.25" />
<text x="583" y="114.89999999999999" font-size="9.4" font-weight="400" text-anchor="start" fill="#222" >Non-significant TA TCRs</text>
<circle cx="571.10" cy="125.20" r="4.2" fill="#b3b3b3" stroke="none" stroke-width="0" />
<text x="583" y="128.5" font-size="9.4" font-weight="400" text-anchor="start" fill="#222" >Non-significant all TCRs</text>
<circle cx="571.10" cy="138.70" r="3.6" fill="#ffffff" stroke="#bdbdbd" stroke-width="1.25" />
<text x="583" y="142.0" font-size="9.4" font-weight="400" text-anchor="start" fill="#222" >Excluded</text>
<text x="567.8" y="161.8" font-size="9.3" font-weight="400" text-anchor="start" fill="#222" >TA: tumor-associated</text>
<text x="87.3" y="243.5" font-size="10.5" font-weight="700" text-anchor="middle" fill="#000" >Total TCR clonal</text>
<text x="87.3" y="256.8" font-size="10.5" font-weight="700" text-anchor="middle" fill="#000" >expansion (day 21)</text>
<line x1="51" y1="275.8" x2="51" y2="446.79999999999995" stroke="#000" stroke-width="1.8"/>
<line x1="50.1" y1="445.9" x2="137.6" y2="445.9" stroke="#000" stroke-width="1.9"/>
<line x1="45" y1="276.6" x2="51" y2="276.6" stroke="#000" stroke-width="1.5"/>
<text x="43.6" y="280.5" font-size="10.9" font-weight="400" text-anchor="end" fill="#1a1a1a" >800</text>
<line x1="45" y1="318.9" x2="51" y2="318.9" stroke="#000" stroke-width="1.5"/>
<text x="43.6" y="322.79999999999995" font-size="10.9" font-weight="400" text-anchor="end" fill="#1a1a1a" >600</text>
<line x1="45" y1="361.2" x2="51" y2="361.2" stroke="#000" stroke-width="1.5"/>
<text x="43.6" y="365.09999999999997" font-size="10.9" font-weight="400" text-anchor="end" fill="#1a1a1a" >400</text>
<line x1="45" y1="403.6" x2="51" y2="403.6" stroke="#000" stroke-width="1.5"/>
<text x="43.6" y="407.5" font-size="10.9" font-weight="400" text-anchor="end" fill="#1a1a1a" >200</text>
<line x1="45" y1="445.9" x2="51" y2="445.9" stroke="#000" stroke-width="1.5"/>
<text x="43.6" y="449.79999999999995" font-size="10.9" font-weight="400" text-anchor="end" fill="#1a1a1a" >0</text>
<line x1="75.7" y1="445.9" x2="75.7" y2="451.9" stroke="#000" stroke-width="1.5"/>
<line x1="113.5" y1="445.9" x2="113.5" y2="451.9" stroke="#000" stroke-width="1.5"/>
<path d="M75.7,298.2 L75.7,276.6 L113.5,276.6 L113.5,311.5" stroke="#000" stroke-width="1.1" fill="none"/>
<text x="94.6" y="270.7" font-size="9" font-weight="400" text-anchor="middle" fill="#1a1a1a" >0.3594</text>
<text x="0" y="0" font-size="10.6" font-weight="700" text-anchor="middle" transform="translate(20.8,359.7) rotate(-90)"># clones</text>
<text x="75.9" y="462.5" font-size="10.8" font-weight="400" text-anchor="middle" fill="#1a1a1a" >Arm A</text>
<text x="114.2" y="462.5" font-size="10.8" font-weight="400" text-anchor="middle" fill="#1a1a1a" >Arm B</text>
<circle cx="75.60" cy="304.30" r="2.9" fill="#4a8ed5" stroke="none" stroke-width="0" />
<circle cx="75.60" cy="359.50" r="2.9" fill="#4a8ed5" stroke="none" stroke-width="0" />
<circle cx="75.30" cy="376.80" r="2.9" fill="#4a8ed5" stroke="none" stroke-width="0" />
<circle cx="74.20" cy="417.00" r="2.9" fill="#4a8ed5" stroke="none" stroke-width="0" />
<circle cx="77.80" cy="417.00" r="2.9" fill="#4a8ed5" stroke="none" stroke-width="0" />
<circle cx="81.70" cy="426.30" r="2.9" fill="#4a8ed5" stroke="none" stroke-width="0" />
<circle cx="77.40" cy="427.40" r="2.9" fill="#4a8ed5" stroke="none" stroke-width="0" />
<circle cx="73.10" cy="428.00" r="2.9" fill="#4a8ed5" stroke="none" stroke-width="0" />
<circle cx="69.20" cy="430.20" r="2.9" fill="#4a8ed5" stroke="none" stroke-width="0" />
<circle cx="65.60" cy="432.70" r="2.9" fill="#4a8ed5" stroke="none" stroke-width="0" />
<circle cx="74.20" cy="434.90" r="2.9" fill="#4a8ed5" stroke="none" stroke-width="0" />
<circle cx="69.90" cy="438.10" r="2.9" fill="#4a8ed5" stroke="none" stroke-width="0" />
<circle cx="77.80" cy="438.10" r="2.9" fill="#4a8ed5" stroke="none" stroke-width="0" />
<circle cx="65.60" cy="441.80" r="2.9" fill="#4a8ed5" stroke="none" stroke-width="0" />
<circle cx="74.20" cy="441.80" r="2.9" fill="#4a8ed5" stroke="none" stroke-width="0" />
<circle cx="85.60" cy="440.30" r="2.9" fill="#4a8ed5" stroke="none" stroke-width="0" />
<circle cx="81.30" cy="443.90" r="2.9" fill="#4a8ed5" stroke="none" stroke-width="0" />
<circle cx="113.60" cy="318.60" r="2.9" fill="#ea3429" stroke="none" stroke-width="0" />
<circle cx="113.60" cy="359.50" r="2.9" fill="#ea3429" stroke="none" stroke-width="0" />
<circle cx="113.50" cy="374.20" r="2.9" fill="#ea3429" stroke="none" stroke-width="0" />
<circle cx="107.50" cy="386.50" r="2.9" fill="#ea3429" stroke="none" stroke-width="0" />
<circle cx="118.90" cy="392.30" r="2.9" fill="#ea3429" stroke="none" stroke-width="0" />
<circle cx="108.00" cy="417.70" r="2.9" fill="#ea3429" stroke="none" stroke-width="0" />
<circle cx="119.40" cy="417.70" r="2.9" fill="#ea3429" stroke="none" stroke-width="0" />
<circle cx="108.00" cy="423.50" r="2.9" fill="#ea3429" stroke="none" stroke-width="0" />
<circle cx="108.00" cy="429.10" r="2.9" fill="#ea3429" stroke="none" stroke-width="0" />
<circle cx="119.40" cy="427.40" r="2.9" fill="#ea3429" stroke="none" stroke-width="0" />
<circle cx="108.00" cy="435.30" r="2.9" fill="#ea3429" stroke="none" stroke-width="0" />
<circle cx="108.00" cy="441.60" r="2.9" fill="#ea3429" stroke="none" stroke-width="0" />
<circle cx="119.40" cy="440.70" r="2.9" fill="#ea3429" stroke="none" stroke-width="0" />
<text x="219.8" y="243.9" font-size="10.5" font-weight="700" text-anchor="middle" fill="#000" >Total TCR clonal</text>
<text x="219.8" y="256.8" font-size="10.5" font-weight="700" text-anchor="middle" fill="#000" >expansion (cycle 1)</text>
<line x1="177.2" y1="276.8" x2="177.2" y2="447.59999999999997" stroke="#000" stroke-width="1.8"/>
<line x1="176.29999999999998" y1="446.7" x2="265.1" y2="446.7" stroke="#000" stroke-width="1.9"/>
<line x1="171.2" y1="277.6" x2="177.2" y2="277.6" stroke="#000" stroke-width="1.5"/>
<text x="169.8" y="281.5" font-size="10.9" font-weight="400" text-anchor="end" fill="#1a1a1a" >800</text>
<line x1="171.2" y1="319.9" x2="177.2" y2="319.9" stroke="#000" stroke-width="1.5"/>
<text x="169.8" y="323.79999999999995" font-size="10.9" font-weight="400" text-anchor="end" fill="#1a1a1a" >600</text>
<line x1="171.2" y1="362.2" x2="177.2" y2="362.2" stroke="#000" stroke-width="1.5"/>
<text x="169.8" y="366.09999999999997" font-size="10.9" font-weight="400" text-anchor="end" fill="#1a1a1a" >400</text>
<line x1="171.2" y1="404.4" x2="177.2" y2="404.4" stroke="#000" stroke-width="1.5"/>
<text x="169.8" y="408.29999999999995" font-size="10.9" font-weight="400" text-anchor="end" fill="#1a1a1a" >200</text>
<line x1="171.2" y1="446.7" x2="177.2" y2="446.7" stroke="#000" stroke-width="1.5"/>
<text x="169.8" y="450.59999999999997" font-size="10.9" font-weight="400" text-anchor="end" fill="#1a1a1a" >0</text>
<line x1="202.1" y1="446.7" x2="202.1" y2="452.7" stroke="#000" stroke-width="1.5"/>
<line x1="239.9" y1="446.7" x2="239.9" y2="452.7" stroke="#000" stroke-width="1.5"/>
<path d="M201.4,328.4 L201.4,287.4 L240.3,287.4 L240.3,303.3" stroke="#000" stroke-width="1.1" fill="none"/>
<text x="220.85000000000002" y="281.3" font-size="9" font-weight="400" text-anchor="middle" fill="#1a1a1a" >0.0172</text>
<text x="0" y="0" font-size="10.6" font-weight="700" text-anchor="middle" transform="translate(148.1,360.7) rotate(-90)"># clones</text>
<text x="202.5" y="463.5" font-size="10.8" font-weight="400" text-anchor="middle" fill="#1a1a1a" >Arm A</text>
<text x="240" y="463.5" font-size="10.8" font-weight="400" text-anchor="middle" fill="#1a1a1a" >Arm B</text>
<circle cx="202.30" cy="406.30" r="2.9" fill="#4a8ed5" stroke="none" stroke-width="0" />
<circle cx="192.60" cy="427.40" r="2.9" fill="#4a8ed5" stroke="none" stroke-width="0" />
<circle cx="196.30" cy="428.90" r="2.9" fill="#4a8ed5" stroke="none" stroke-width="0" />
<circle cx="199.50" cy="430.00" r="2.9" fill="#4a8ed5" stroke="none" stroke-width="0" />
<circle cx="203.40" cy="428.00" r="2.9" fill="#4a8ed5" stroke="none" stroke-width="0" />
<circle cx="206.60" cy="425.60" r="2.9" fill="#4a8ed5" stroke="none" stroke-width="0" />
<circle cx="211.80" cy="427.80" r="2.9" fill="#4a8ed5" stroke="none" stroke-width="0" />
<circle cx="195.20" cy="434.20" r="2.9" fill="#4a8ed5" stroke="none" stroke-width="0" />
<circle cx="202.10" cy="433.80" r="2.9" fill="#4a8ed5" stroke="none" stroke-width="0" />
<circle cx="207.50" cy="432.10" r="2.9" fill="#4a8ed5" stroke="none" stroke-width="0" />
<circle cx="201.70" cy="438.50" r="2.9" fill="#4a8ed5" stroke="none" stroke-width="0" />
<circle cx="203.80" cy="440.30" r="2.9" fill="#4a8ed5" stroke="none" stroke-width="0" />
<circle cx="209.20" cy="441.30" r="2.9" fill="#4a8ed5" stroke="none" stroke-width="0" />
<circle cx="195.20" cy="443.90" r="2.9" fill="#4a8ed5" stroke="none" stroke-width="0" />
<circle cx="200.60" cy="444.60" r="2.9" fill="#4a8ed5" stroke="none" stroke-width="0" />
<circle cx="206.60" cy="444.60" r="2.9" fill="#4a8ed5" stroke="none" stroke-width="0" />
<circle cx="239.80" cy="319.60" r="2.9" fill="#ea3429" stroke="none" stroke-width="0" />
<circle cx="239.80" cy="360.50" r="2.9" fill="#ea3429" stroke="none" stroke-width="0" />
<circle cx="240.00" cy="375.30" r="2.9" fill="#ea3429" stroke="none" stroke-width="0" />
<circle cx="234.40" cy="387.60" r="2.9" fill="#ea3429" stroke="none" stroke-width="0" />
<circle cx="245.80" cy="393.40" r="2.9" fill="#ea3429" stroke="none" stroke-width="0" />
<circle cx="234.40" cy="418.80" r="2.9" fill="#ea3429" stroke="none" stroke-width="0" />
<circle cx="245.80" cy="418.80" r="2.9" fill="#ea3429" stroke="none" stroke-width="0" />
<circle cx="234.40" cy="424.80" r="2.9" fill="#ea3429" stroke="none" stroke-width="0" />
<circle cx="234.40" cy="430.20" r="2.9" fill="#ea3429" stroke="none" stroke-width="0" />
<circle cx="245.80" cy="428.00" r="2.9" fill="#ea3429" stroke="none" stroke-width="0" />
<circle cx="234.40" cy="436.40" r="2.9" fill="#ea3429" stroke="none" stroke-width="0" />
<circle cx="234.40" cy="442.80" r="2.9" fill="#ea3429" stroke="none" stroke-width="0" />
<circle cx="245.80" cy="441.30" r="2.9" fill="#ea3429" stroke="none" stroke-width="0" />
<text x="349.2" y="245.6" font-size="10.8" font-weight="700" text-anchor="middle" fill="#000" >Fraction tumor-</text>
<text x="349.2" y="258.4" font-size="10.8" font-weight="700" text-anchor="middle" fill="#000" >associated TCRs (cycle 1)</text>
<line x1="311.2" y1="277.2" x2="311.2" y2="447.79999999999995" stroke="#000" stroke-width="1.8"/>
<line x1="310.3" y1="446.9" x2="398.6" y2="446.9" stroke="#000" stroke-width="1.9"/>
<line x1="305.2" y1="278.0" x2="311.2" y2="278.0" stroke="#000" stroke-width="1.5"/>
<text x="303.6" y="281.9" font-size="10.9" font-weight="400" text-anchor="end" fill="#1a1a1a" >0.8</text>
<line x1="305.2" y1="320.2" x2="311.2" y2="320.2" stroke="#000" stroke-width="1.5"/>
<text x="303.6" y="324.09999999999997" font-size="10.9" font-weight="400" text-anchor="end" fill="#1a1a1a" >0.6</text>
<line x1="305.2" y1="362.4" x2="311.2" y2="362.4" stroke="#000" stroke-width="1.5"/>
<text x="303.6" y="366.29999999999995" font-size="10.9" font-weight="400" text-anchor="end" fill="#1a1a1a" >0.4</text>
<line x1="305.2" y1="404.7" x2="311.2" y2="404.7" stroke="#000" stroke-width="1.5"/>
<text x="303.6" y="408.59999999999997" font-size="10.9" font-weight="400" text-anchor="end" fill="#1a1a1a" >0.2</text>
<line x1="305.2" y1="446.9" x2="311.2" y2="446.9" stroke="#000" stroke-width="1.5"/>
<text x="303.6" y="450.79999999999995" font-size="10.9" font-weight="400" text-anchor="end" fill="#1a1a1a" >0.0</text>
<line x1="336" y1="446.9" x2="336" y2="452.9" stroke="#000" stroke-width="1.5"/>
<line x1="373.9" y1="446.9" x2="373.9" y2="452.9" stroke="#000" stroke-width="1.5"/>
<path d="M335.8,301.2 L335.8,294.4 L373.9,294.4 L373.9,372.5" stroke="#000" stroke-width="1.1" fill="none"/>
<text x="354.85" y="288.5" font-size="9" font-weight="400" text-anchor="middle" fill="#1a1a1a" >0.0025</text>
<text x="0" y="0" font-size="10.6" font-weight="700" text-anchor="middle" transform="translate(284.9,360.2) rotate(-90)">Fraction tumor-associated</text>
<text x="336.3" y="463.2" font-size="10.8" font-weight="400" text-anchor="middle" fill="#1a1a1a" >Arm A</text>
<text x="374" y="463.2" font-size="10.8" font-weight="400" text-anchor="middle" fill="#1a1a1a" >Arm B</text>
<circle cx="335.80" cy="309.00" r="2.9" fill="#4a8ed5" stroke="none" stroke-width="0" />
<circle cx="330.30" cy="322.30" r="2.9" fill="#4a8ed5" stroke="none" stroke-width="0" />
<circle cx="341.50" cy="326.40" r="2.9" fill="#4a8ed5" stroke="none" stroke-width="0" />
<circle cx="335.80" cy="333.30" r="2.9" fill="#4a8ed5" stroke="none" stroke-width="0" />
<circle cx="330.30" cy="341.10" r="2.9" fill="#4a8ed5" stroke="none" stroke-width="0" />
<circle cx="341.50" cy="343.80" r="2.9" fill="#4a8ed5" stroke="none" stroke-width="0" />
<circle cx="330.90" cy="365.40" r="2.9" fill="#4a8ed5" stroke="none" stroke-width="0" />
<circle cx="341.60" cy="365.40" r="2.9" fill="#4a8ed5" stroke="none" stroke-width="0" />
<circle cx="336.00" cy="378.50" r="2.9" fill="#4a8ed5" stroke="none" stroke-width="0" />
<circle cx="336.00" cy="419.40" r="2.9" fill="#4a8ed5" stroke="none" stroke-width="0" />
<circle cx="336.00" cy="427.40" r="2.9" fill="#4a8ed5" stroke="none" stroke-width="0" />
<circle cx="330.20" cy="438.80" r="2.9" fill="#4a8ed5" stroke="none" stroke-width="0" />
<circle cx="341.60" cy="437.00" r="2.9" fill="#4a8ed5" stroke="none" stroke-width="0" />
<circle cx="373.90" cy="380.00" r="2.9" fill="#ea3429" stroke="none" stroke-width="0" />
<circle cx="373.90" cy="400.00" r="2.9" fill="#ea3429" stroke="none" stroke-width="0" />
<circle cx="373.90" cy="418.10" r="2.9" fill="#ea3429" stroke="none" stroke-width="0" />
<circle cx="378.60" cy="424.80" r="2.9" fill="#ea3429" stroke="none" stroke-width="0" />
<circle cx="368.90" cy="429.10" r="2.9" fill="#ea3429" stroke="none" stroke-width="0" />
<circle cx="364.00" cy="434.90" r="2.9" fill="#ea3429" stroke="none" stroke-width="0" />
<circle cx="373.90" cy="435.50" r="2.9" fill="#ea3429" stroke="none" stroke-width="0" />
<circle cx="383.50" cy="439.20" r="2.9" fill="#ea3429" stroke="none" stroke-width="0" />
<circle cx="364.00" cy="446.30" r="2.9" fill="#ea3429" stroke="none" stroke-width="0" />
<circle cx="373.90" cy="444.60" r="2.9" fill="#ea3429" stroke="none" stroke-width="0" />
<circle cx="383.50" cy="445.20" r="2.9" fill="#ea3429" stroke="none" stroke-width="0" />
<text x="495.7" y="245.2" font-size="10.8" font-weight="700" text-anchor="middle" fill="#000" >Fraction tumor-</text>
<text x="495.7" y="258.3" font-size="10.8" font-weight="700" text-anchor="middle" fill="#000" >associated TCRs (day 21)</text>
<line x1="453.2" y1="277.09999999999997" x2="453.2" y2="447.59999999999997" stroke="#000" stroke-width="1.8"/>
<line x1="452.3" y1="446.7" x2="540" y2="446.7" stroke="#000" stroke-width="1.9"/>
<line x1="447.2" y1="277.9" x2="453.2" y2="277.9" stroke="#000" stroke-width="1.5"/>
<text x="445.8" y="281.79999999999995" font-size="10.9" font-weight="400" text-anchor="end" fill="#1a1a1a" >0.6</text>
<line x1="447.2" y1="334.2" x2="453.2" y2="334.2" stroke="#000" stroke-width="1.5"/>
<text x="445.8" y="338.09999999999997" font-size="10.9" font-weight="400" text-anchor="end" fill="#1a1a1a" >0.4</text>
<line x1="447.2" y1="390.4" x2="453.2" y2="390.4" stroke="#000" stroke-width="1.5"/>
<text x="445.8" y="394.29999999999995" font-size="10.9" font-weight="400" text-anchor="end" fill="#1a1a1a" >0.2</text>
<line x1="447.2" y1="446.7" x2="453.2" y2="446.7" stroke="#000" stroke-width="1.5"/>
<text x="445.8" y="450.59999999999997" font-size="10.9" font-weight="400" text-anchor="end" fill="#1a1a1a" >0.0</text>
<line x1="478.1" y1="446.7" x2="478.1" y2="452.7" stroke="#000" stroke-width="1.5"/>
<line x1="516.1" y1="446.7" x2="516.1" y2="452.7" stroke="#000" stroke-width="1.5"/>
<path d="M477.7,286 L477.7,278.2 L515.5,278.2 L515.5,345.2" stroke="#000" stroke-width="1.1" fill="none"/>
<text x="496.6" y="272.1" font-size="9" font-weight="400" text-anchor="middle" fill="#1a1a1a" >0.052</text>
<text x="0" y="0" font-size="10.6" font-weight="700" text-anchor="middle" transform="translate(427.2,360.4) rotate(-90)">Fraction tumor-associated</text>
<text x="478.8" y="463.4" font-size="10.8" font-weight="400" text-anchor="middle" fill="#1a1a1a" >Arm A</text>
<text x="516.1" y="463.4" font-size="10.8" font-weight="400" text-anchor="middle" fill="#1a1a1a" >Arm B</text>
<circle cx="477.70" cy="286.00" r="2.9" fill="#4a8ed5" stroke="none" stroke-width="0" />
<circle cx="477.70" cy="298.90" r="2.9" fill="#4a8ed5" stroke="none" stroke-width="0" />
<circle cx="478.10" cy="305.90" r="2.9" fill="#4a8ed5" stroke="none" stroke-width="0" />
<circle cx="478.10" cy="330.90" r="2.9" fill="#4a8ed5" stroke="none" stroke-width="0" />
<circle cx="478.10" cy="368.70" r="2.9" fill="#4a8ed5" stroke="none" stroke-width="0" />
<circle cx="478.10" cy="379.60" r="2.9" fill="#4a8ed5" stroke="none" stroke-width="0" />
<circle cx="478.10" cy="399.80" r="2.9" fill="#4a8ed5" stroke="none" stroke-width="0" />
<circle cx="474.60" cy="405.40" r="2.9" fill="#4a8ed5" stroke="none" stroke-width="0" />
<circle cx="481.30" cy="406.50" r="2.9" fill="#4a8ed5" stroke="none" stroke-width="0" />
<circle cx="478.10" cy="419.80" r="2.9" fill="#4a8ed5" stroke="none" stroke-width="0" />
<circle cx="474.60" cy="442.40" r="2.9" fill="#4a8ed5" stroke="none" stroke-width="0" />
<circle cx="481.30" cy="443.90" r="2.9" fill="#4a8ed5" stroke="none" stroke-width="0" />
<circle cx="487.70" cy="443.50" r="2.9" fill="#4a8ed5" stroke="none" stroke-width="0" />
<circle cx="468.40" cy="446.70" r="2.9" fill="#4a8ed5" stroke="none" stroke-width="0" />
<circle cx="515.50" cy="357.90" r="2.9" fill="#ea3429" stroke="none" stroke-width="0" />
<circle cx="515.70" cy="384.40" r="2.9" fill="#ea3429" stroke="none" stroke-width="0" />
<circle cx="515.70" cy="408.70" r="2.9" fill="#ea3429" stroke="none" stroke-width="0" />
<circle cx="515.70" cy="417.30" r="2.9" fill="#ea3429" stroke="none" stroke-width="0" />
<circle cx="515.70" cy="423.10" r="2.9" fill="#ea3429" stroke="none" stroke-width="0" />
<circle cx="506.00" cy="432.10" r="2.9" fill="#ea3429" stroke="none" stroke-width="0" />
<circle cx="525.40" cy="431.20" r="2.9" fill="#ea3429" stroke="none" stroke-width="0" />
<circle cx="515.70" cy="436.60" r="2.9" fill="#ea3429" stroke="none" stroke-width="0" />
<circle cx="515.70" cy="443.50" r="2.9" fill="#ea3429" stroke="none" stroke-width="0" />
<circle cx="525.40" cy="444.60" r="2.9" fill="#ea3429" stroke="none" stroke-width="0" />
<circle cx="506.00" cy="446.30" r="2.9" fill="#ea3429" stroke="none" stroke-width="0" />
<text x="634.6" y="268.2" font-size="10.5" font-weight="700" text-anchor="middle" fill="#000" >Arm A</text>
<line x1="592.4" y1="276.0" x2="592.4" y2="446.79999999999995" stroke="#000" stroke-width="1.8"/>
<line x1="591.5" y1="445.9" x2="680.4" y2="445.9" stroke="#000" stroke-width="1.9"/>
<line x1="586.4" y1="276.8" x2="592.4" y2="276.8" stroke="#000" stroke-width="1.5"/>
<text x="585.4" y="280.7" font-size="10.9" font-weight="400" text-anchor="end" fill="#1a1a1a" >0.8</text>
<line x1="586.4" y1="319.1" x2="592.4" y2="319.1" stroke="#000" stroke-width="1.5"/>
<text x="585.4" y="323.0" font-size="10.9" font-weight="400" text-anchor="end" fill="#1a1a1a" >0.6</text>
<line x1="586.4" y1="361.4" x2="592.4" y2="361.4" stroke="#000" stroke-width="1.5"/>
<text x="585.4" y="365.29999999999995" font-size="10.9" font-weight="400" text-anchor="end" fill="#1a1a1a" >0.4</text>
<line x1="586.4" y1="403.6" x2="592.4" y2="403.6" stroke="#000" stroke-width="1.5"/>
<text x="585.4" y="407.5" font-size="10.9" font-weight="400" text-anchor="end" fill="#1a1a1a" >0.2</text>
<line x1="586.4" y1="445.9" x2="592.4" y2="445.9" stroke="#000" stroke-width="1.5"/>
<text x="585.4" y="449.79999999999995" font-size="10.9" font-weight="400" text-anchor="end" fill="#1a1a1a" >0.0</text>
<line x1="612.1" y1="445.9" x2="612.1" y2="451.9" stroke="#000" stroke-width="1.5"/>
<line x1="660.7" y1="445.9" x2="660.7" y2="451.9" stroke="#000" stroke-width="1.5"/>
<path d="M611.9,300.6 L611.9,293.5 L661,293.5 L661,321" stroke="#000" stroke-width="1.1" fill="none"/>
<text x="636.45" y="287.9" font-size="9" font-weight="400" text-anchor="middle" fill="#1a1a1a" >0.0479</text>
<text x="0" y="0" font-size="10.6" font-weight="700" text-anchor="middle" transform="translate(566,359.6) rotate(-90)">Fraction tumor-associated</text>
<text x="616" y="462.2" font-size="10.8" font-weight="400" text-anchor="middle" fill="#1a1a1a" >Cycle 1</text>
<text x="664.3" y="462.2" font-size="10.8" font-weight="400" text-anchor="middle" fill="#1a1a1a" >Cycle 2</text>
<line x1="611.9" y1="307.6" x2="660.6" y2="400.1" stroke="#1e1e1e" stroke-width="0.75"/>
<line x1="611.9" y1="320.5" x2="660.6" y2="340.2" stroke="#1e1e1e" stroke-width="0.75"/>
<line x1="611.9" y1="325.1" x2="660.6" y2="417.1" stroke="#1e1e1e" stroke-width="0.75"/>
<line x1="611.9" y1="324.2" x2="660.6" y2="415.3" stroke="#1e1e1e" stroke-width="0.75"/>
<line x1="611.9" y1="332" x2="660.6" y2="397.5" stroke="#1e1e1e" stroke-width="0.75"/>
<line x1="611.9" y1="339.7" x2="660.6" y2="430.8" stroke="#1e1e1e" stroke-width="0.75"/>
<line x1="611.9" y1="342.3" x2="660.6" y2="350" stroke="#1e1e1e" stroke-width="0.75"/>
<line x1="611.9" y1="364.1" x2="660.6" y2="395.2" stroke="#1e1e1e" stroke-width="0.75"/>
<line x1="611.9" y1="377.4" x2="660.6" y2="445.1" stroke="#1e1e1e" stroke-width="0.75"/>
<line x1="611.9" y1="418.4" x2="660.6" y2="328.5" stroke="#1e1e1e" stroke-width="0.75"/>
<line x1="611.9" y1="426.2" x2="660.6" y2="445.1" stroke="#1e1e1e" stroke-width="0.75"/>
<line x1="611.9" y1="435.4" x2="660.6" y2="386.9" stroke="#1e1e1e" stroke-width="0.75"/>
<line x1="611.9" y1="437.2" x2="660.6" y2="445.1" stroke="#1e1e1e" stroke-width="0.75"/>
<circle cx="611.90" cy="307.60" r="2.9" fill="#4a8ed5" stroke="none" stroke-width="0" />
<circle cx="611.90" cy="320.50" r="2.9" fill="#4a8ed5" stroke="none" stroke-width="0" />
<circle cx="611.90" cy="325.10" r="2.9" fill="#4a8ed5" stroke="none" stroke-width="0" />
<circle cx="611.90" cy="332.00" r="2.9" fill="#4a8ed5" stroke="none" stroke-width="0" />
<circle cx="611.90" cy="339.70" r="2.9" fill="#4a8ed5" stroke="none" stroke-width="0" />
<circle cx="611.90" cy="342.30" r="2.9" fill="#4a8ed5" stroke="none" stroke-width="0" />
<circle cx="611.90" cy="364.10" r="2.9" fill="#4a8ed5" stroke="none" stroke-width="0" />
<circle cx="611.90" cy="377.40" r="2.9" fill="#4a8ed5" stroke="none" stroke-width="0" />
<circle cx="611.90" cy="418.40" r="2.9" fill="#4a8ed5" stroke="none" stroke-width="0" />
<circle cx="611.90" cy="426.20" r="2.9" fill="#4a8ed5" stroke="none" stroke-width="0" />
<circle cx="611.90" cy="435.40" r="2.9" fill="#4a8ed5" stroke="none" stroke-width="0" />
<circle cx="611.90" cy="437.20" r="2.9" fill="#4a8ed5" stroke="none" stroke-width="0" />
<circle cx="660.60" cy="328.50" r="2.9" fill="#4a8ed5" stroke="none" stroke-width="0" />
<circle cx="660.60" cy="340.20" r="2.9" fill="#4a8ed5" stroke="none" stroke-width="0" />
<circle cx="660.60" cy="350.00" r="2.9" fill="#4a8ed5" stroke="none" stroke-width="0" />
<circle cx="660.60" cy="386.90" r="2.9" fill="#4a8ed5" stroke="none" stroke-width="0" />
<circle cx="660.60" cy="395.20" r="2.9" fill="#4a8ed5" stroke="none" stroke-width="0" />
<circle cx="660.60" cy="397.50" r="2.9" fill="#4a8ed5" stroke="none" stroke-width="0" />
<circle cx="660.60" cy="400.10" r="2.9" fill="#4a8ed5" stroke="none" stroke-width="0" />
<circle cx="660.60" cy="415.30" r="2.9" fill="#4a8ed5" stroke="none" stroke-width="0" />
<circle cx="660.60" cy="417.10" r="2.9" fill="#4a8ed5" stroke="none" stroke-width="0" />
<circle cx="660.60" cy="430.80" r="2.9" fill="#4a8ed5" stroke="none" stroke-width="0" />
<circle cx="660.60" cy="444.50" r="2.9" fill="#4a8ed5" stroke="none" stroke-width="0" />
<circle cx="660.60" cy="445.60" r="2.9" fill="#4a8ed5" stroke="none" stroke-width="0" />
</svg>
</body></html>
